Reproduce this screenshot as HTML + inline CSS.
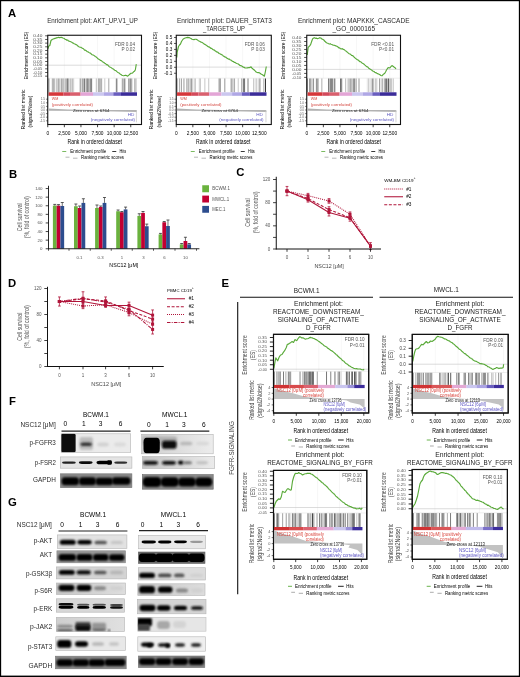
<!DOCTYPE html>
<html><head><meta charset="utf-8"><style>
html,body{margin:0;padding:0;background:#fff;}
svg{display:block;font-family:"Liberation Sans", sans-serif;}
text{opacity:0.995;}
</style></head><body>
<svg width="520" height="677" viewBox="0 0 520 677">
<defs>
<filter id="b1" x="-20%" y="-60%" width="140%" height="220%"><feGaussianBlur stdDeviation="0.8"/></filter>
<filter id="b2" x="-20%" y="-60%" width="140%" height="220%"><feGaussianBlur stdDeviation="1.3"/></filter>
<filter id="b05" x="-20%" y="-60%" width="140%" height="220%"><feGaussianBlur stdDeviation="0.5"/></filter>
</defs>
<rect width="520" height="677" fill="#fff"/>
<rect x="0.00" y="0.00" width="520.00" height="1.20" fill="#000" />
<rect x="0.00" y="0.00" width="1.15" height="677.00" fill="#000" />
<rect x="518.85" y="0.00" width="1.15" height="677.00" fill="#000" />
<rect x="0.00" y="675.60" width="520.00" height="1.40" fill="#000" />
<text x="8.00" y="17.00" font-size="11.3" fill="#000" font-weight="bold" >A</text>
<text x="9.00" y="178.00" font-size="11.3" fill="#000" font-weight="bold" >B</text>
<text x="236.30" y="176.30" font-size="11.3" fill="#000" font-weight="bold" >C</text>
<text x="8.00" y="286.70" font-size="11.3" fill="#000" font-weight="bold" >D</text>
<text x="221.60" y="287.00" font-size="11.3" fill="#000" font-weight="bold" >E</text>
<text x="9.00" y="404.50" font-size="11.3" fill="#000" font-weight="bold" >F</text>
<text x="8.00" y="505.50" font-size="11.3" fill="#000" font-weight="bold" >G</text>
<line x1="64.35" y1="35.75" x2="64.35" y2="78.20" stroke="#eeeeee" stroke-width="0.5" />
<line x1="80.95" y1="35.75" x2="80.95" y2="78.20" stroke="#eeeeee" stroke-width="0.5" />
<line x1="97.55" y1="35.75" x2="97.55" y2="78.20" stroke="#eeeeee" stroke-width="0.5" />
<line x1="114.15" y1="35.75" x2="114.15" y2="78.20" stroke="#eeeeee" stroke-width="0.5" />
<line x1="130.75" y1="35.75" x2="130.75" y2="78.20" stroke="#eeeeee" stroke-width="0.5" />
<line x1="48.25" y1="65.20" x2="141.00" y2="65.20" stroke="#c4c4c4" stroke-width="0.6" />
<path d="M48.20,48.60 L48.60,46.20 L49.80,45.60 L50.40,43.00 L51.00,40.50 L52.50,39.20 L53.33,38.98 L54.17,38.62 L55.00,38.40 L55.88,38.18 L56.75,37.64 L57.62,37.79 L58.50,37.30 L59.38,37.60 L60.25,37.56 L61.12,37.29 L62.00,37.60 L62.80,37.99 L63.60,38.24 L64.40,38.56 L65.20,39.44 L66.00,39.50 L66.80,40.25 L67.60,39.98 L68.40,40.95 L69.20,41.17 L70.00,41.50 L70.83,41.83 L71.67,42.18 L72.50,42.87 L73.33,43.14 L74.17,43.71 L75.00,44.00 L75.88,44.64 L76.75,44.79 L77.62,45.76 L78.50,46.44 L79.38,46.95 L80.25,47.23 L81.12,47.36 L82.00,48.20 L82.85,48.38 L83.69,48.99 L84.54,50.08 L85.38,50.15 L86.23,50.72 L87.08,51.62 L87.92,51.73 L88.77,52.42 L89.62,52.86 L90.46,53.13 L91.31,54.01 L92.15,54.72 L93.00,55.00 L93.83,55.34 L94.67,55.97 L95.50,56.69 L96.33,57.01 L97.17,57.91 L98.00,58.72 L98.83,59.19 L99.67,59.69 L100.50,60.50 L101.33,60.59 L102.17,61.46 L103.00,62.00 L103.85,62.50 L104.69,63.25 L105.54,63.50 L106.38,64.56 L107.23,64.67 L108.07,65.31 L108.92,66.35 L109.76,67.04 L110.61,67.27 L111.45,67.85 L112.30,68.50 L113.11,68.89 L113.93,69.49 L114.74,70.30 L115.56,70.56 L116.37,71.09 L117.19,71.90 L118.00,72.50 L119.00,72.93 L120.00,73.94 L121.00,74.50 L121.93,75.16 L122.87,75.56 L123.80,75.80 L124.65,75.49 L125.50,75.20 L126.60,75.59 L127.70,76.20 L128.85,75.05 L130.00,74.00 L131.00,73.25 L132.00,73.20 L132.80,72.72 L133.60,71.82 L134.40,71.30 L135.30,70.00 L136.30,64.20" fill="none" stroke="#5aaa3a" stroke-width="1.15" stroke-linejoin="round" />
<line x1="47.75" y1="78.20" x2="141.50" y2="78.20" stroke="#dddddd" stroke-width="0.5" />
<line x1="48.90" y1="78.50" x2="48.90" y2="92.30" stroke="#000" stroke-width="0.8" stroke-opacity="0.57"/>
<line x1="52.31" y1="78.50" x2="52.31" y2="92.30" stroke="#000" stroke-width="0.8" stroke-opacity="0.40"/>
<line x1="53.38" y1="78.50" x2="53.38" y2="92.30" stroke="#000" stroke-width="0.5" stroke-opacity="0.68"/>
<line x1="54.71" y1="78.50" x2="54.71" y2="92.30" stroke="#000" stroke-width="0.6" stroke-opacity="0.52"/>
<line x1="56.93" y1="78.50" x2="56.93" y2="92.30" stroke="#000" stroke-width="0.5" stroke-opacity="0.72"/>
<line x1="58.43" y1="78.50" x2="58.43" y2="92.30" stroke="#000" stroke-width="0.6" stroke-opacity="0.58"/>
<line x1="59.70" y1="78.50" x2="59.70" y2="92.30" stroke="#000" stroke-width="0.5" stroke-opacity="0.54"/>
<line x1="61.30" y1="78.50" x2="61.30" y2="92.30" stroke="#000" stroke-width="0.5" stroke-opacity="0.82"/>
<line x1="62.74" y1="78.50" x2="62.74" y2="92.30" stroke="#000" stroke-width="0.7" stroke-opacity="0.45"/>
<line x1="63.56" y1="78.50" x2="63.56" y2="92.30" stroke="#000" stroke-width="0.5" stroke-opacity="0.39"/>
<line x1="65.13" y1="78.50" x2="65.13" y2="92.30" stroke="#000" stroke-width="0.5" stroke-opacity="0.80"/>
<line x1="66.96" y1="78.50" x2="66.96" y2="92.30" stroke="#000" stroke-width="0.8" stroke-opacity="0.68"/>
<line x1="67.83" y1="78.50" x2="67.83" y2="92.30" stroke="#000" stroke-width="0.7" stroke-opacity="0.72"/>
<line x1="68.93" y1="78.50" x2="68.93" y2="92.30" stroke="#000" stroke-width="0.8" stroke-opacity="0.34"/>
<line x1="70.42" y1="78.50" x2="70.42" y2="92.30" stroke="#000" stroke-width="0.5" stroke-opacity="0.46"/>
<line x1="71.30" y1="78.50" x2="71.30" y2="92.30" stroke="#000" stroke-width="0.6" stroke-opacity="0.34"/>
<line x1="72.50" y1="78.50" x2="72.50" y2="92.30" stroke="#000" stroke-width="0.6" stroke-opacity="0.42"/>
<line x1="73.68" y1="78.50" x2="73.68" y2="92.30" stroke="#000" stroke-width="0.6" stroke-opacity="0.32"/>
<line x1="80.00" y1="78.50" x2="80.00" y2="92.30" stroke="#000" stroke-width="0.5" stroke-opacity="0.51"/>
<line x1="80.84" y1="78.50" x2="80.84" y2="92.30" stroke="#000" stroke-width="0.5" stroke-opacity="0.66"/>
<line x1="82.33" y1="78.50" x2="82.33" y2="92.30" stroke="#000" stroke-width="0.5" stroke-opacity="0.58"/>
<line x1="83.20" y1="78.50" x2="83.20" y2="92.30" stroke="#000" stroke-width="0.5" stroke-opacity="0.78"/>
<line x1="84.54" y1="78.50" x2="84.54" y2="92.30" stroke="#000" stroke-width="0.8" stroke-opacity="0.67"/>
<line x1="86.09" y1="78.50" x2="86.09" y2="92.30" stroke="#000" stroke-width="0.6" stroke-opacity="0.63"/>
<line x1="87.17" y1="78.50" x2="87.17" y2="92.30" stroke="#000" stroke-width="0.6" stroke-opacity="0.76"/>
<line x1="88.11" y1="78.50" x2="88.11" y2="92.30" stroke="#000" stroke-width="0.8" stroke-opacity="0.73"/>
<line x1="89.71" y1="78.50" x2="89.71" y2="92.30" stroke="#000" stroke-width="0.5" stroke-opacity="0.65"/>
<line x1="90.60" y1="78.50" x2="90.60" y2="92.30" stroke="#000" stroke-width="0.8" stroke-opacity="0.55"/>
<line x1="91.64" y1="78.50" x2="91.64" y2="92.30" stroke="#000" stroke-width="0.7" stroke-opacity="0.75"/>
<line x1="96.30" y1="78.50" x2="96.30" y2="92.30" stroke="#000" stroke-width="0.5" stroke-opacity="0.53"/>
<line x1="98.34" y1="78.50" x2="98.34" y2="92.30" stroke="#000" stroke-width="0.8" stroke-opacity="0.44"/>
<line x1="99.36" y1="78.50" x2="99.36" y2="92.30" stroke="#000" stroke-width="0.6" stroke-opacity="0.44"/>
<line x1="100.24" y1="78.50" x2="100.24" y2="92.30" stroke="#000" stroke-width="0.7" stroke-opacity="0.52"/>
<line x1="101.63" y1="78.50" x2="101.63" y2="92.30" stroke="#000" stroke-width="0.6" stroke-opacity="0.58"/>
<line x1="104.80" y1="78.50" x2="104.80" y2="92.30" stroke="#000" stroke-width="0.5" stroke-opacity="0.42"/>
<line x1="108.81" y1="78.50" x2="108.81" y2="92.30" stroke="#000" stroke-width="0.6" stroke-opacity="0.60"/>
<line x1="116.35" y1="78.50" x2="116.35" y2="92.30" stroke="#000" stroke-width="0.8" stroke-opacity="0.68"/>
<line x1="117.49" y1="78.50" x2="117.49" y2="92.30" stroke="#000" stroke-width="0.5" stroke-opacity="0.40"/>
<line x1="122.30" y1="78.50" x2="122.30" y2="92.30" stroke="#000" stroke-width="0.5" stroke-opacity="0.80"/>
<line x1="123.57" y1="78.50" x2="123.57" y2="92.30" stroke="#000" stroke-width="0.5" stroke-opacity="0.52"/>
<line x1="124.80" y1="78.50" x2="124.80" y2="92.30" stroke="#000" stroke-width="0.8" stroke-opacity="0.72"/>
<line x1="128.67" y1="78.50" x2="128.67" y2="92.30" stroke="#000" stroke-width="0.6" stroke-opacity="0.68"/>
<line x1="130.15" y1="78.50" x2="130.15" y2="92.30" stroke="#000" stroke-width="0.8" stroke-opacity="0.84"/>
<line x1="131.75" y1="78.50" x2="131.75" y2="92.30" stroke="#000" stroke-width="0.6" stroke-opacity="0.71"/>
<line x1="134.60" y1="78.50" x2="134.60" y2="92.30" stroke="#000" stroke-width="0.6" stroke-opacity="0.47"/>
<line x1="135.93" y1="78.50" x2="135.93" y2="92.30" stroke="#000" stroke-width="0.8" stroke-opacity="0.43"/>
<rect x="48.50" y="92.30" width="14.80" height="3.50" fill="#d6373a" />
<rect x="63.30" y="92.30" width="6.70" height="3.50" fill="#d34a5c" />
<rect x="70.00" y="92.30" width="10.60" height="3.50" fill="#d9606e" />
<rect x="80.60" y="92.30" width="12.40" height="3.50" fill="#e3a5d6" />
<rect x="93.00" y="92.30" width="10.60" height="3.50" fill="#cbc7ef" />
<rect x="103.60" y="92.30" width="9.70" height="3.50" fill="#afa7e5" />
<rect x="113.30" y="92.30" width="7.70" height="3.50" fill="#6a5ebf" />
<rect x="121.00" y="92.30" width="16.00" height="3.50" fill="#3b2c99" />
<rect x="47.75" y="35.25" width="93.75" height="89.25" fill="none" stroke="#111" stroke-width="1.1"/>
<text x="47.20" y="23.01" font-size="6.8" fill="#2a2a2a" textLength="90.80" lengthAdjust="spacingAndGlyphs" >Enrichment plot: AKT_UP.V1_UP</text>
<text x="135.00" y="45.70" font-size="4.7" text-anchor="end" fill="#555" >FDR 0.04</text>
<text x="135.00" y="50.70" font-size="4.7" text-anchor="end" fill="#555" >P 0.02</text>
<line x1="47.75" y1="124.50" x2="47.75" y2="127.20" stroke="#111" stroke-width="0.8" />
<text x="47.75" y="134.80" font-size="4.8" text-anchor="middle" >0</text>
<line x1="64.35" y1="124.50" x2="64.35" y2="127.20" stroke="#111" stroke-width="0.8" />
<text x="64.35" y="134.80" font-size="4.8" text-anchor="middle" >2,500</text>
<line x1="80.95" y1="124.50" x2="80.95" y2="127.20" stroke="#111" stroke-width="0.8" />
<text x="80.95" y="134.80" font-size="4.8" text-anchor="middle" >5,000</text>
<line x1="97.55" y1="124.50" x2="97.55" y2="127.20" stroke="#111" stroke-width="0.8" />
<text x="97.55" y="134.80" font-size="4.8" text-anchor="middle" >7,500</text>
<line x1="114.15" y1="124.50" x2="114.15" y2="127.20" stroke="#111" stroke-width="0.8" />
<text x="114.15" y="134.80" font-size="4.8" text-anchor="middle" >10,000</text>
<line x1="130.75" y1="124.50" x2="130.75" y2="127.20" stroke="#111" stroke-width="0.8" />
<text x="130.75" y="134.80" font-size="4.8" text-anchor="middle" >12,500</text>
<text x="67.50" y="144.28" font-size="7.0" textLength="54.50" lengthAdjust="spacingAndGlyphs" >Rank in ordered dataset</text>
<line x1="62.25" y1="151.50" x2="66.25" y2="151.50" stroke="#5aaa3a" stroke-width="0.8" />
<text x="70.25" y="153.13" font-size="4.8" textLength="36.00" lengthAdjust="spacingAndGlyphs" >Enrichment profile</text>
<line x1="112.25" y1="151.50" x2="116.25" y2="151.50" stroke="#222" stroke-width="0.9" />
<text x="119.50" y="153.13" font-size="4.8" textLength="6.75" lengthAdjust="spacingAndGlyphs" >Hits</text>
<line x1="65.50" y1="157.20" x2="69.50" y2="157.20" stroke="#999" stroke-width="0.7" />
<line x1="73.00" y1="158.20" x2="77.50" y2="158.20" stroke="#999" stroke-width="0.7" />
<text x="81.00" y="159.38" font-size="4.8" textLength="43.00" lengthAdjust="spacingAndGlyphs" >Ranking metric scores</text>
<text x="51.70" y="100.46" font-size="4.3" fill="#d4463f" textLength="6.55" lengthAdjust="spacingAndGlyphs" >WM</text>
<text x="51.70" y="105.66" font-size="4.3" fill="#d4463f" textLength="41.30" lengthAdjust="spacingAndGlyphs" >(positively correlated)</text>
<path d="M48.35,108.4 L67.75,109.4 L92.75,109.9 L136.00,110.1 L137.00,110.6 L137.00,112.0 L92.75,110.9 L48.35,110.7 Z" fill="#b2b2b2"/>
<rect x="135.90" y="111.50" width="1.10" height="10.80" fill="#d9d9d9" />
<text x="72.90" y="111.66" font-size="4.3" fill="#222" textLength="36.50" lengthAdjust="spacingAndGlyphs" >Zero cross at 6764</text>
<text x="127.70" y="115.86" font-size="4.3" fill="#5a55c0" textLength="6.70" lengthAdjust="spacingAndGlyphs" >HD</text>
<text x="90.80" y="121.06" font-size="4.3" fill="#5a55c0" textLength="44.20" lengthAdjust="spacingAndGlyphs" >(negatively correlated)</text>
<text transform="translate(27.50,55.60) rotate(-90)" x="0" y="0" font-size="6.0" text-anchor="middle" textLength="48.00" lengthAdjust="spacingAndGlyphs" >Enrichment score (ES)</text>
<text transform="translate(24.75,109.50) rotate(-90)" x="0" y="0" font-size="6.0" text-anchor="middle" textLength="40.00" lengthAdjust="spacingAndGlyphs" >Ranked list metric</text>
<text transform="translate(32.25,111.50) rotate(-90)" x="0" y="0" font-size="6.0" text-anchor="middle" textLength="32.00" lengthAdjust="spacingAndGlyphs" >(signal2Noise)</text>
<line x1="45.95" y1="99.20" x2="47.75" y2="99.20" stroke="#111" stroke-width="0.5" />
<text x="45.15" y="100.40" font-size="3.2" text-anchor="end" fill="#666" >1.5</text>
<line x1="45.95" y1="102.80" x2="47.75" y2="102.80" stroke="#111" stroke-width="0.5" />
<text x="45.15" y="104.00" font-size="3.2" text-anchor="end" fill="#666" >1.0</text>
<line x1="45.95" y1="106.40" x2="47.75" y2="106.40" stroke="#111" stroke-width="0.5" />
<text x="45.15" y="107.60" font-size="3.2" text-anchor="end" fill="#666" >0.5</text>
<line x1="45.95" y1="110.00" x2="47.75" y2="110.00" stroke="#111" stroke-width="0.5" />
<text x="45.15" y="111.20" font-size="3.2" text-anchor="end" fill="#666" >0.0</text>
<line x1="45.95" y1="113.60" x2="47.75" y2="113.60" stroke="#111" stroke-width="0.5" />
<text x="45.15" y="114.80" font-size="3.2" text-anchor="end" fill="#666" >-0.5</text>
<line x1="45.95" y1="117.20" x2="47.75" y2="117.20" stroke="#111" stroke-width="0.5" />
<text x="45.15" y="118.40" font-size="3.2" text-anchor="end" fill="#666" >-1.0</text>
<line x1="45.95" y1="120.80" x2="47.75" y2="120.80" stroke="#111" stroke-width="0.5" />
<text x="45.15" y="122.00" font-size="3.2" text-anchor="end" fill="#666" >-1.5</text>
<line x1="192.85" y1="35.75" x2="192.85" y2="78.20" stroke="#eeeeee" stroke-width="0.5" />
<line x1="209.45" y1="35.75" x2="209.45" y2="78.20" stroke="#eeeeee" stroke-width="0.5" />
<line x1="226.05" y1="35.75" x2="226.05" y2="78.20" stroke="#eeeeee" stroke-width="0.5" />
<line x1="242.65" y1="35.75" x2="242.65" y2="78.20" stroke="#eeeeee" stroke-width="0.5" />
<line x1="259.25" y1="35.75" x2="259.25" y2="78.20" stroke="#eeeeee" stroke-width="0.5" />
<line x1="176.75" y1="67.10" x2="270.80" y2="67.10" stroke="#c4c4c4" stroke-width="0.6" />
<path d="M176.80,57.50 L177.20,52.00 L177.80,49.50 L178.50,46.50 L179.50,45.00 L180.50,44.00 L181.50,41.50 L183.00,39.20 L184.50,38.30 L186.00,37.80 L187.50,37.40 L189.00,37.60 L190.00,38.07 L191.00,38.50 L192.00,39.21 L193.00,39.50 L194.00,39.67 L195.00,39.20 L196.00,39.25 L197.00,39.60 L198.00,40.42 L199.00,41.01 L200.00,41.50 L200.83,42.11 L201.67,42.23 L202.50,42.67 L203.33,43.42 L204.17,44.17 L205.00,44.33 L205.83,45.00 L206.67,45.37 L207.50,46.24 L208.33,46.81 L209.17,46.93 L210.00,47.50 L210.83,48.37 L211.67,48.24 L212.50,49.29 L213.33,49.86 L214.17,49.88 L215.00,50.79 L215.83,51.22 L216.67,52.02 L217.50,52.02 L218.33,52.78 L219.17,53.54 L220.00,53.80 L220.84,54.40 L221.67,54.67 L222.51,55.01 L223.34,56.11 L224.18,56.28 L225.01,57.15 L225.85,57.05 L226.69,58.02 L227.52,58.52 L228.36,59.09 L229.19,58.96 L230.03,59.71 L230.86,59.99 L231.70,60.80 L232.53,61.39 L233.36,61.53 L234.19,62.36 L235.01,62.37 L235.84,63.06 L236.67,63.54 L237.50,63.70 L238.33,64.00 L239.17,64.70 L240.00,65.45 L240.83,65.63 L241.67,65.99 L242.50,66.40 L243.33,67.24 L244.17,67.31 L245.00,68.00 L245.80,68.03 L246.60,67.96 L247.40,67.92 L248.20,67.58 L249.00,67.80 L250.00,67.41 L251.00,66.80 L252.00,68.19 L253.00,69.00 L253.93,69.70 L254.85,70.53 L255.77,71.76 L256.70,72.30 L257.52,72.58 L258.35,72.59 L259.18,72.63 L260.00,73.20 L261.00,74.03 L262.00,74.50 L263.20,75.24 L264.40,76.20 L265.30,72.00 L266.30,66.50" fill="none" stroke="#5aaa3a" stroke-width="1.15" stroke-linejoin="round" />
<line x1="176.25" y1="78.20" x2="271.30" y2="78.20" stroke="#dddddd" stroke-width="0.5" />
<line x1="177.10" y1="78.50" x2="177.10" y2="92.30" stroke="#000" stroke-width="0.7" stroke-opacity="0.62"/>
<line x1="179.48" y1="78.50" x2="179.48" y2="92.30" stroke="#000" stroke-width="0.7" stroke-opacity="0.45"/>
<line x1="181.36" y1="78.50" x2="181.36" y2="92.30" stroke="#000" stroke-width="0.6" stroke-opacity="0.66"/>
<line x1="183.95" y1="78.50" x2="183.95" y2="92.30" stroke="#000" stroke-width="0.6" stroke-opacity="0.65"/>
<line x1="186.96" y1="78.50" x2="186.96" y2="92.30" stroke="#000" stroke-width="0.7" stroke-opacity="0.64"/>
<line x1="188.77" y1="78.50" x2="188.77" y2="92.30" stroke="#000" stroke-width="0.7" stroke-opacity="0.56"/>
<line x1="190.31" y1="78.50" x2="190.31" y2="92.30" stroke="#000" stroke-width="0.5" stroke-opacity="0.45"/>
<line x1="191.36" y1="78.50" x2="191.36" y2="92.30" stroke="#000" stroke-width="0.8" stroke-opacity="0.54"/>
<line x1="192.78" y1="78.50" x2="192.78" y2="92.30" stroke="#000" stroke-width="0.6" stroke-opacity="0.39"/>
<line x1="195.08" y1="78.50" x2="195.08" y2="92.30" stroke="#000" stroke-width="0.6" stroke-opacity="0.58"/>
<line x1="199.23" y1="78.50" x2="199.23" y2="92.30" stroke="#000" stroke-width="0.5" stroke-opacity="0.27"/>
<line x1="200.25" y1="78.50" x2="200.25" y2="92.30" stroke="#000" stroke-width="0.8" stroke-opacity="0.34"/>
<line x1="204.86" y1="78.50" x2="204.86" y2="92.30" stroke="#000" stroke-width="0.5" stroke-opacity="0.45"/>
<line x1="208.74" y1="78.50" x2="208.74" y2="92.30" stroke="#000" stroke-width="0.7" stroke-opacity="0.34"/>
<line x1="218.90" y1="78.50" x2="218.90" y2="92.30" stroke="#000" stroke-width="0.7" stroke-opacity="0.41"/>
<line x1="220.08" y1="78.50" x2="220.08" y2="92.30" stroke="#000" stroke-width="0.8" stroke-opacity="0.76"/>
<line x1="224.82" y1="78.50" x2="224.82" y2="92.30" stroke="#000" stroke-width="0.8" stroke-opacity="0.52"/>
<line x1="231.08" y1="78.50" x2="231.08" y2="92.30" stroke="#000" stroke-width="0.6" stroke-opacity="0.60"/>
<line x1="231.99" y1="78.50" x2="231.99" y2="92.30" stroke="#000" stroke-width="0.5" stroke-opacity="0.50"/>
<line x1="233.11" y1="78.50" x2="233.11" y2="92.30" stroke="#000" stroke-width="0.7" stroke-opacity="0.37"/>
<line x1="234.56" y1="78.50" x2="234.56" y2="92.30" stroke="#000" stroke-width="0.8" stroke-opacity="0.43"/>
<line x1="238.23" y1="78.50" x2="238.23" y2="92.30" stroke="#000" stroke-width="0.7" stroke-opacity="0.31"/>
<line x1="241.63" y1="78.50" x2="241.63" y2="92.30" stroke="#000" stroke-width="0.7" stroke-opacity="0.47"/>
<line x1="243.30" y1="78.50" x2="243.30" y2="92.30" stroke="#000" stroke-width="0.8" stroke-opacity="0.79"/>
<line x1="244.58" y1="78.50" x2="244.58" y2="92.30" stroke="#000" stroke-width="0.8" stroke-opacity="0.73"/>
<line x1="248.01" y1="78.50" x2="248.01" y2="92.30" stroke="#000" stroke-width="0.8" stroke-opacity="0.64"/>
<line x1="253.76" y1="78.50" x2="253.76" y2="92.30" stroke="#000" stroke-width="0.5" stroke-opacity="0.55"/>
<line x1="255.76" y1="78.50" x2="255.76" y2="92.30" stroke="#000" stroke-width="0.6" stroke-opacity="0.23"/>
<line x1="256.79" y1="78.50" x2="256.79" y2="92.30" stroke="#000" stroke-width="0.5" stroke-opacity="0.43"/>
<line x1="259.10" y1="78.50" x2="259.10" y2="92.30" stroke="#000" stroke-width="0.6" stroke-opacity="0.55"/>
<line x1="260.14" y1="78.50" x2="260.14" y2="92.30" stroke="#000" stroke-width="0.6" stroke-opacity="0.54"/>
<line x1="263.88" y1="78.50" x2="263.88" y2="92.30" stroke="#000" stroke-width="0.7" stroke-opacity="0.52"/>
<line x1="265.50" y1="78.50" x2="265.50" y2="92.30" stroke="#000" stroke-width="0.8" stroke-opacity="1.00"/>
<rect x="177.00" y="92.30" width="14.80" height="3.50" fill="#d6373a" />
<rect x="191.80" y="92.30" width="6.70" height="3.50" fill="#d34a5c" />
<rect x="198.50" y="92.30" width="10.60" height="3.50" fill="#d9606e" />
<rect x="209.10" y="92.30" width="12.40" height="3.50" fill="#e3a5d6" />
<rect x="221.50" y="92.30" width="10.60" height="3.50" fill="#cbc7ef" />
<rect x="232.10" y="92.30" width="9.70" height="3.50" fill="#afa7e5" />
<rect x="241.80" y="92.30" width="7.70" height="3.50" fill="#6a5ebf" />
<rect x="249.50" y="92.30" width="17.00" height="3.50" fill="#3b2c99" />
<rect x="176.25" y="35.25" width="95.05" height="89.25" fill="none" stroke="#111" stroke-width="1.1"/>
<text x="177.00" y="23.01" font-size="6.8" fill="#2a2a2a" textLength="94.80" lengthAdjust="spacingAndGlyphs" >Enrichment plot: DAUER_STAT3</text>
<text x="203.00" y="31.01" font-size="6.8" fill="#2a2a2a" textLength="42.00" lengthAdjust="spacingAndGlyphs" >_TARGETS_UP</text>
<text x="264.80" y="45.70" font-size="4.7" text-anchor="end" fill="#555" >FDR 0.06</text>
<text x="264.80" y="50.70" font-size="4.7" text-anchor="end" fill="#555" >P 0.03</text>
<line x1="176.25" y1="124.50" x2="176.25" y2="127.20" stroke="#111" stroke-width="0.8" />
<text x="176.25" y="134.80" font-size="4.8" text-anchor="middle" >0</text>
<line x1="192.85" y1="124.50" x2="192.85" y2="127.20" stroke="#111" stroke-width="0.8" />
<text x="192.85" y="134.80" font-size="4.8" text-anchor="middle" >2,500</text>
<line x1="209.45" y1="124.50" x2="209.45" y2="127.20" stroke="#111" stroke-width="0.8" />
<text x="209.45" y="134.80" font-size="4.8" text-anchor="middle" >5,000</text>
<line x1="226.05" y1="124.50" x2="226.05" y2="127.20" stroke="#111" stroke-width="0.8" />
<text x="226.05" y="134.80" font-size="4.8" text-anchor="middle" >7,500</text>
<line x1="242.65" y1="124.50" x2="242.65" y2="127.20" stroke="#111" stroke-width="0.8" />
<text x="242.65" y="134.80" font-size="4.8" text-anchor="middle" >10,000</text>
<line x1="259.25" y1="124.50" x2="259.25" y2="127.20" stroke="#111" stroke-width="0.8" />
<text x="259.25" y="134.80" font-size="4.8" text-anchor="middle" >12,500</text>
<text x="196.00" y="144.28" font-size="7.0" textLength="54.50" lengthAdjust="spacingAndGlyphs" >Rank in ordered dataset</text>
<line x1="190.75" y1="151.50" x2="194.75" y2="151.50" stroke="#5aaa3a" stroke-width="0.8" />
<text x="198.75" y="153.13" font-size="4.8" textLength="36.00" lengthAdjust="spacingAndGlyphs" >Enrichment profile</text>
<line x1="240.75" y1="151.50" x2="244.75" y2="151.50" stroke="#222" stroke-width="0.9" />
<text x="248.00" y="153.13" font-size="4.8" textLength="6.75" lengthAdjust="spacingAndGlyphs" >Hits</text>
<line x1="194.00" y1="157.20" x2="198.00" y2="157.20" stroke="#999" stroke-width="0.7" />
<line x1="201.50" y1="158.20" x2="206.00" y2="158.20" stroke="#999" stroke-width="0.7" />
<text x="209.50" y="159.38" font-size="4.8" textLength="43.00" lengthAdjust="spacingAndGlyphs" >Ranking metric scores</text>
<text x="180.20" y="100.46" font-size="4.3" fill="#d4463f" textLength="6.55" lengthAdjust="spacingAndGlyphs" >WM</text>
<text x="180.20" y="105.66" font-size="4.3" fill="#d4463f" textLength="41.30" lengthAdjust="spacingAndGlyphs" >(positively correlated)</text>
<path d="M176.85,108.4 L196.25,109.4 L221.25,109.9 L265.50,110.1 L266.50,110.6 L266.50,112.0 L221.25,110.9 L176.85,110.7 Z" fill="#b2b2b2"/>
<rect x="265.40" y="111.50" width="1.10" height="10.80" fill="#d9d9d9" />
<text x="201.40" y="111.66" font-size="4.3" fill="#222" textLength="36.50" lengthAdjust="spacingAndGlyphs" >Zero cross at 6764</text>
<text x="256.20" y="115.86" font-size="4.3" fill="#5a55c0" textLength="6.70" lengthAdjust="spacingAndGlyphs" >HD</text>
<text x="219.30" y="121.06" font-size="4.3" fill="#5a55c0" textLength="44.20" lengthAdjust="spacingAndGlyphs" >(negatively correlated)</text>
<text transform="translate(157.35,55.60) rotate(-90)" x="0" y="0" font-size="6.0" text-anchor="middle" textLength="48.00" lengthAdjust="spacingAndGlyphs" >Enrichment score (ES)</text>
<text transform="translate(153.25,109.50) rotate(-90)" x="0" y="0" font-size="6.0" text-anchor="middle" textLength="40.00" lengthAdjust="spacingAndGlyphs" >Ranked list metric</text>
<text transform="translate(160.75,111.50) rotate(-90)" x="0" y="0" font-size="6.0" text-anchor="middle" textLength="32.00" lengthAdjust="spacingAndGlyphs" >(signal2Noise)</text>
<line x1="174.45" y1="99.20" x2="176.25" y2="99.20" stroke="#111" stroke-width="0.5" />
<text x="173.65" y="100.40" font-size="3.2" text-anchor="end" fill="#666" >1.5</text>
<line x1="174.45" y1="102.80" x2="176.25" y2="102.80" stroke="#111" stroke-width="0.5" />
<text x="173.65" y="104.00" font-size="3.2" text-anchor="end" fill="#666" >1.0</text>
<line x1="174.45" y1="106.40" x2="176.25" y2="106.40" stroke="#111" stroke-width="0.5" />
<text x="173.65" y="107.60" font-size="3.2" text-anchor="end" fill="#666" >0.5</text>
<line x1="174.45" y1="110.00" x2="176.25" y2="110.00" stroke="#111" stroke-width="0.5" />
<text x="173.65" y="111.20" font-size="3.2" text-anchor="end" fill="#666" >0.0</text>
<line x1="174.45" y1="113.60" x2="176.25" y2="113.60" stroke="#111" stroke-width="0.5" />
<text x="173.65" y="114.80" font-size="3.2" text-anchor="end" fill="#666" >-0.5</text>
<line x1="174.45" y1="117.20" x2="176.25" y2="117.20" stroke="#111" stroke-width="0.5" />
<text x="173.65" y="118.40" font-size="3.2" text-anchor="end" fill="#666" >-1.0</text>
<line x1="174.45" y1="120.80" x2="176.25" y2="120.80" stroke="#111" stroke-width="0.5" />
<text x="173.65" y="122.00" font-size="3.2" text-anchor="end" fill="#666" >-1.5</text>
<line x1="323.35" y1="35.75" x2="323.35" y2="78.20" stroke="#eeeeee" stroke-width="0.5" />
<line x1="339.95" y1="35.75" x2="339.95" y2="78.20" stroke="#eeeeee" stroke-width="0.5" />
<line x1="356.55" y1="35.75" x2="356.55" y2="78.20" stroke="#eeeeee" stroke-width="0.5" />
<line x1="373.15" y1="35.75" x2="373.15" y2="78.20" stroke="#eeeeee" stroke-width="0.5" />
<line x1="389.75" y1="35.75" x2="389.75" y2="78.20" stroke="#eeeeee" stroke-width="0.5" />
<line x1="307.25" y1="69.40" x2="400.00" y2="69.40" stroke="#c4c4c4" stroke-width="0.6" />
<path d="M307.20,55.00 L308.20,47.30 L309.03,46.48 L309.87,45.60 L310.70,44.40 L311.80,41.00 L312.70,38.70 L313.65,37.98 L314.60,37.70 L315.57,38.38 L316.53,38.15 L317.50,38.70 L318.65,38.32 L319.80,37.70 L320.87,38.01 L321.93,39.08 L323.00,39.50 L323.80,39.96 L324.60,41.04 L325.40,41.76 L326.20,42.49 L327.00,43.00 L327.80,43.20 L328.60,43.74 L329.40,44.06 L330.20,43.69 L331.00,44.20 L331.95,44.51 L332.90,45.12 L333.85,45.27 L334.80,45.40 L335.87,45.89 L336.93,46.33 L338.00,47.00 L338.83,47.92 L339.67,47.91 L340.50,48.80 L341.50,48.93 L342.50,48.70 L343.33,49.53 L344.17,49.64 L345.00,50.35 L345.83,50.92 L346.67,51.67 L347.50,52.14 L348.33,53.10 L349.17,53.71 L350.00,54.00 L350.84,54.49 L351.67,55.52 L352.51,55.56 L353.34,56.20 L354.18,57.22 L355.01,57.94 L355.85,58.57 L356.69,59.32 L357.52,59.84 L358.36,60.05 L359.19,61.01 L360.03,61.75 L360.86,61.79 L361.70,62.70 L362.52,63.31 L363.34,63.69 L364.16,64.29 L364.99,65.14 L365.81,65.89 L366.63,66.72 L367.45,66.74 L368.27,67.62 L369.09,68.58 L369.91,69.03 L370.74,69.48 L371.56,69.89 L372.38,70.78 L373.20,71.30 L374.00,71.55 L374.80,72.23 L375.60,72.65 L376.40,72.89 L377.20,73.59 L378.00,73.80 L378.98,74.23 L379.95,74.78 L380.92,75.53 L381.90,75.80 L382.87,74.79 L383.83,73.91 L384.80,73.30 L385.65,71.70 L386.50,70.00 L387.35,68.70 L388.20,67.50 L389.10,67.91 L390.00,67.80 L391.00,66.52 L392.00,65.60 L393.00,66.21 L394.00,67.00 L395.00,67.69 L396.00,69.00" fill="none" stroke="#5aaa3a" stroke-width="1.15" stroke-linejoin="round" />
<line x1="306.75" y1="78.20" x2="400.50" y2="78.20" stroke="#dddddd" stroke-width="0.5" />
<line x1="307.50" y1="78.50" x2="307.50" y2="92.30" stroke="#000" stroke-width="0.5" stroke-opacity="0.84"/>
<line x1="309.87" y1="78.50" x2="309.87" y2="92.30" stroke="#000" stroke-width="0.7" stroke-opacity="0.86"/>
<line x1="310.70" y1="78.50" x2="310.70" y2="92.30" stroke="#000" stroke-width="0.5" stroke-opacity="0.41"/>
<line x1="312.02" y1="78.50" x2="312.02" y2="92.30" stroke="#000" stroke-width="0.7" stroke-opacity="0.46"/>
<line x1="313.56" y1="78.50" x2="313.56" y2="92.30" stroke="#000" stroke-width="0.8" stroke-opacity="0.55"/>
<line x1="316.38" y1="78.50" x2="316.38" y2="92.30" stroke="#000" stroke-width="0.7" stroke-opacity="0.67"/>
<line x1="317.55" y1="78.50" x2="317.55" y2="92.30" stroke="#000" stroke-width="0.8" stroke-opacity="0.44"/>
<line x1="318.42" y1="78.50" x2="318.42" y2="92.30" stroke="#000" stroke-width="0.6" stroke-opacity="0.40"/>
<line x1="321.85" y1="78.50" x2="321.85" y2="92.30" stroke="#000" stroke-width="0.8" stroke-opacity="0.40"/>
<line x1="328.59" y1="78.50" x2="328.59" y2="92.30" stroke="#000" stroke-width="0.8" stroke-opacity="0.70"/>
<line x1="330.16" y1="78.50" x2="330.16" y2="92.30" stroke="#000" stroke-width="0.8" stroke-opacity="0.83"/>
<line x1="331.36" y1="78.50" x2="331.36" y2="92.30" stroke="#000" stroke-width="0.6" stroke-opacity="0.66"/>
<line x1="332.20" y1="78.50" x2="332.20" y2="92.30" stroke="#000" stroke-width="0.8" stroke-opacity="0.83"/>
<line x1="334.21" y1="78.50" x2="334.21" y2="92.30" stroke="#000" stroke-width="0.6" stroke-opacity="0.91"/>
<line x1="335.12" y1="78.50" x2="335.12" y2="92.30" stroke="#000" stroke-width="0.6" stroke-opacity="0.49"/>
<line x1="340.80" y1="78.50" x2="340.80" y2="92.30" stroke="#000" stroke-width="0.8" stroke-opacity="1.00"/>
<line x1="341.80" y1="78.50" x2="341.80" y2="92.30" stroke="#000" stroke-width="0.7" stroke-opacity="0.53"/>
<line x1="345.67" y1="78.50" x2="345.67" y2="92.30" stroke="#000" stroke-width="0.8" stroke-opacity="0.34"/>
<line x1="348.08" y1="78.50" x2="348.08" y2="92.30" stroke="#000" stroke-width="0.5" stroke-opacity="0.55"/>
<line x1="349.30" y1="78.50" x2="349.30" y2="92.30" stroke="#000" stroke-width="0.5" stroke-opacity="0.56"/>
<line x1="350.74" y1="78.50" x2="350.74" y2="92.30" stroke="#000" stroke-width="0.6" stroke-opacity="0.72"/>
<line x1="352.05" y1="78.50" x2="352.05" y2="92.30" stroke="#000" stroke-width="0.5" stroke-opacity="0.73"/>
<line x1="353.52" y1="78.50" x2="353.52" y2="92.30" stroke="#000" stroke-width="0.5" stroke-opacity="0.82"/>
<line x1="354.79" y1="78.50" x2="354.79" y2="92.30" stroke="#000" stroke-width="0.7" stroke-opacity="0.86"/>
<line x1="356.40" y1="78.50" x2="356.40" y2="92.30" stroke="#000" stroke-width="0.5" stroke-opacity="0.56"/>
<line x1="359.00" y1="78.50" x2="359.00" y2="92.30" stroke="#000" stroke-width="0.7" stroke-opacity="0.59"/>
<line x1="367.28" y1="78.50" x2="367.28" y2="92.30" stroke="#000" stroke-width="0.5" stroke-opacity="0.22"/>
<line x1="368.70" y1="78.50" x2="368.70" y2="92.30" stroke="#000" stroke-width="0.7" stroke-opacity="0.34"/>
<line x1="370.21" y1="78.50" x2="370.21" y2="92.30" stroke="#000" stroke-width="0.5" stroke-opacity="0.28"/>
<line x1="371.78" y1="78.50" x2="371.78" y2="92.30" stroke="#000" stroke-width="0.7" stroke-opacity="0.33"/>
<line x1="372.60" y1="78.50" x2="372.60" y2="92.30" stroke="#000" stroke-width="0.6" stroke-opacity="0.65"/>
<line x1="373.71" y1="78.50" x2="373.71" y2="92.30" stroke="#000" stroke-width="0.8" stroke-opacity="0.34"/>
<line x1="375.76" y1="78.50" x2="375.76" y2="92.30" stroke="#000" stroke-width="0.6" stroke-opacity="0.45"/>
<line x1="376.88" y1="78.50" x2="376.88" y2="92.30" stroke="#000" stroke-width="0.5" stroke-opacity="0.34"/>
<line x1="379.69" y1="78.50" x2="379.69" y2="92.30" stroke="#000" stroke-width="0.6" stroke-opacity="0.75"/>
<line x1="381.91" y1="78.50" x2="381.91" y2="92.30" stroke="#000" stroke-width="0.5" stroke-opacity="0.52"/>
<line x1="382.77" y1="78.50" x2="382.77" y2="92.30" stroke="#000" stroke-width="0.5" stroke-opacity="0.55"/>
<line x1="385.10" y1="78.50" x2="385.10" y2="92.30" stroke="#000" stroke-width="0.8" stroke-opacity="0.90"/>
<line x1="386.82" y1="78.50" x2="386.82" y2="92.30" stroke="#000" stroke-width="0.8" stroke-opacity="1.00"/>
<line x1="388.48" y1="78.50" x2="388.48" y2="92.30" stroke="#000" stroke-width="0.7" stroke-opacity="0.91"/>
<line x1="389.95" y1="78.50" x2="389.95" y2="92.30" stroke="#000" stroke-width="0.7" stroke-opacity="0.53"/>
<line x1="391.25" y1="78.50" x2="391.25" y2="92.30" stroke="#000" stroke-width="0.6" stroke-opacity="0.48"/>
<line x1="393.19" y1="78.50" x2="393.19" y2="92.30" stroke="#000" stroke-width="0.6" stroke-opacity="0.42"/>
<rect x="307.50" y="92.30" width="14.80" height="3.50" fill="#d6373a" />
<rect x="322.30" y="92.30" width="6.70" height="3.50" fill="#d34a5c" />
<rect x="329.00" y="92.30" width="10.60" height="3.50" fill="#d9606e" />
<rect x="339.60" y="92.30" width="12.40" height="3.50" fill="#e3a5d6" />
<rect x="352.00" y="92.30" width="10.60" height="3.50" fill="#cbc7ef" />
<rect x="362.60" y="92.30" width="9.70" height="3.50" fill="#afa7e5" />
<rect x="372.30" y="92.30" width="7.70" height="3.50" fill="#6a5ebf" />
<rect x="380.00" y="92.30" width="16.50" height="3.50" fill="#3b2c99" />
<rect x="306.75" y="35.25" width="93.75" height="89.25" fill="none" stroke="#111" stroke-width="1.1"/>
<text x="298.00" y="23.01" font-size="6.8" fill="#2a2a2a" textLength="111.50" lengthAdjust="spacingAndGlyphs" >Enrichment plot: MAPKKK_CASCADE</text>
<text x="332.50" y="31.01" font-size="6.8" fill="#2a2a2a" textLength="42.50" lengthAdjust="spacingAndGlyphs" >_GO_0000165</text>
<text x="394.00" y="45.70" font-size="4.7" text-anchor="end" fill="#555" >FDR &lt;0.01</text>
<text x="394.00" y="50.70" font-size="4.7" text-anchor="end" fill="#555" >P&lt;0.01</text>
<line x1="306.75" y1="124.50" x2="306.75" y2="127.20" stroke="#111" stroke-width="0.8" />
<text x="306.75" y="134.80" font-size="4.8" text-anchor="middle" >0</text>
<line x1="323.35" y1="124.50" x2="323.35" y2="127.20" stroke="#111" stroke-width="0.8" />
<text x="323.35" y="134.80" font-size="4.8" text-anchor="middle" >2,500</text>
<line x1="339.95" y1="124.50" x2="339.95" y2="127.20" stroke="#111" stroke-width="0.8" />
<text x="339.95" y="134.80" font-size="4.8" text-anchor="middle" >5,000</text>
<line x1="356.55" y1="124.50" x2="356.55" y2="127.20" stroke="#111" stroke-width="0.8" />
<text x="356.55" y="134.80" font-size="4.8" text-anchor="middle" >7,500</text>
<line x1="373.15" y1="124.50" x2="373.15" y2="127.20" stroke="#111" stroke-width="0.8" />
<text x="373.15" y="134.80" font-size="4.8" text-anchor="middle" >10,000</text>
<line x1="389.75" y1="124.50" x2="389.75" y2="127.20" stroke="#111" stroke-width="0.8" />
<text x="389.75" y="134.80" font-size="4.8" text-anchor="middle" >12,500</text>
<text x="326.50" y="144.28" font-size="7.0" textLength="54.50" lengthAdjust="spacingAndGlyphs" >Rank in ordered dataset</text>
<line x1="321.25" y1="151.50" x2="325.25" y2="151.50" stroke="#5aaa3a" stroke-width="0.8" />
<text x="329.25" y="153.13" font-size="4.8" textLength="36.00" lengthAdjust="spacingAndGlyphs" >Enrichment profile</text>
<line x1="371.25" y1="151.50" x2="375.25" y2="151.50" stroke="#222" stroke-width="0.9" />
<text x="378.50" y="153.13" font-size="4.8" textLength="6.75" lengthAdjust="spacingAndGlyphs" >Hits</text>
<line x1="324.50" y1="157.20" x2="328.50" y2="157.20" stroke="#999" stroke-width="0.7" />
<line x1="332.00" y1="158.20" x2="336.50" y2="158.20" stroke="#999" stroke-width="0.7" />
<text x="340.00" y="159.38" font-size="4.8" textLength="43.00" lengthAdjust="spacingAndGlyphs" >Ranking metric scores</text>
<text x="310.70" y="100.46" font-size="4.3" fill="#d4463f" textLength="6.55" lengthAdjust="spacingAndGlyphs" >WM</text>
<text x="310.70" y="105.66" font-size="4.3" fill="#d4463f" textLength="41.30" lengthAdjust="spacingAndGlyphs" >(positively correlated)</text>
<path d="M307.35,108.4 L326.75,109.4 L351.75,109.9 L395.50,110.1 L396.50,110.6 L396.50,112.0 L351.75,110.9 L307.35,110.7 Z" fill="#b2b2b2"/>
<rect x="395.40" y="111.50" width="1.10" height="10.80" fill="#d9d9d9" />
<text x="331.90" y="111.66" font-size="4.3" fill="#222" textLength="36.50" lengthAdjust="spacingAndGlyphs" >Zero cross at 6764</text>
<text x="386.70" y="115.86" font-size="4.3" fill="#5a55c0" textLength="6.70" lengthAdjust="spacingAndGlyphs" >HD</text>
<text x="349.80" y="121.06" font-size="4.3" fill="#5a55c0" textLength="44.20" lengthAdjust="spacingAndGlyphs" >(negatively correlated)</text>
<text transform="translate(284.50,55.60) rotate(-90)" x="0" y="0" font-size="6.0" text-anchor="middle" textLength="48.00" lengthAdjust="spacingAndGlyphs" >Enrichment score (ES)</text>
<text transform="translate(283.75,109.50) rotate(-90)" x="0" y="0" font-size="6.0" text-anchor="middle" textLength="40.00" lengthAdjust="spacingAndGlyphs" >Ranked list metric</text>
<text transform="translate(291.25,111.50) rotate(-90)" x="0" y="0" font-size="6.0" text-anchor="middle" textLength="32.00" lengthAdjust="spacingAndGlyphs" >(signal2Noise)</text>
<line x1="304.95" y1="99.20" x2="306.75" y2="99.20" stroke="#111" stroke-width="0.5" />
<text x="304.15" y="100.40" font-size="3.2" text-anchor="end" fill="#666" >1.5</text>
<line x1="304.95" y1="102.80" x2="306.75" y2="102.80" stroke="#111" stroke-width="0.5" />
<text x="304.15" y="104.00" font-size="3.2" text-anchor="end" fill="#666" >1.0</text>
<line x1="304.95" y1="106.40" x2="306.75" y2="106.40" stroke="#111" stroke-width="0.5" />
<text x="304.15" y="107.60" font-size="3.2" text-anchor="end" fill="#666" >0.5</text>
<line x1="304.95" y1="110.00" x2="306.75" y2="110.00" stroke="#111" stroke-width="0.5" />
<text x="304.15" y="111.20" font-size="3.2" text-anchor="end" fill="#666" >0.0</text>
<line x1="304.95" y1="113.60" x2="306.75" y2="113.60" stroke="#111" stroke-width="0.5" />
<text x="304.15" y="114.80" font-size="3.2" text-anchor="end" fill="#666" >-0.5</text>
<line x1="304.95" y1="117.20" x2="306.75" y2="117.20" stroke="#111" stroke-width="0.5" />
<text x="304.15" y="118.40" font-size="3.2" text-anchor="end" fill="#666" >-1.0</text>
<line x1="304.95" y1="120.80" x2="306.75" y2="120.80" stroke="#111" stroke-width="0.5" />
<text x="304.15" y="122.00" font-size="3.2" text-anchor="end" fill="#666" >-1.5</text>
<line x1="45.15" y1="35.80" x2="47.75" y2="35.80" stroke="#111" stroke-width="0.7" />
<text x="33.15" y="37.10" font-size="3.8" fill="#555" textLength="9.20" lengthAdjust="spacingAndGlyphs" >0.40</text>
<line x1="45.15" y1="39.47" x2="47.75" y2="39.47" stroke="#111" stroke-width="0.7" />
<text x="33.15" y="40.77" font-size="3.8" fill="#555" textLength="9.20" lengthAdjust="spacingAndGlyphs" >0.35</text>
<line x1="45.15" y1="43.14" x2="47.75" y2="43.14" stroke="#111" stroke-width="0.7" />
<text x="33.15" y="44.44" font-size="3.8" fill="#555" textLength="9.20" lengthAdjust="spacingAndGlyphs" >0.30</text>
<line x1="45.15" y1="46.81" x2="47.75" y2="46.81" stroke="#111" stroke-width="0.7" />
<text x="33.15" y="48.11" font-size="3.8" fill="#555" textLength="9.20" lengthAdjust="spacingAndGlyphs" >0.25</text>
<line x1="45.15" y1="50.48" x2="47.75" y2="50.48" stroke="#111" stroke-width="0.7" />
<text x="33.15" y="51.78" font-size="3.8" fill="#555" textLength="9.20" lengthAdjust="spacingAndGlyphs" >0.20</text>
<line x1="45.15" y1="54.15" x2="47.75" y2="54.15" stroke="#111" stroke-width="0.7" />
<text x="33.15" y="55.45" font-size="3.8" fill="#555" textLength="9.20" lengthAdjust="spacingAndGlyphs" >0.15</text>
<line x1="45.15" y1="57.82" x2="47.75" y2="57.82" stroke="#111" stroke-width="0.7" />
<text x="33.15" y="59.12" font-size="3.8" fill="#555" textLength="9.20" lengthAdjust="spacingAndGlyphs" >0.10</text>
<line x1="45.15" y1="61.49" x2="47.75" y2="61.49" stroke="#111" stroke-width="0.7" />
<text x="33.15" y="62.79" font-size="3.8" fill="#555" textLength="9.20" lengthAdjust="spacingAndGlyphs" >0.05</text>
<line x1="45.15" y1="65.16" x2="47.75" y2="65.16" stroke="#111" stroke-width="0.7" />
<text x="33.15" y="66.46" font-size="3.8" fill="#555" textLength="9.20" lengthAdjust="spacingAndGlyphs" >0.00</text>
<line x1="45.15" y1="68.83" x2="47.75" y2="68.83" stroke="#111" stroke-width="0.7" />
<text x="33.15" y="70.13" font-size="3.8" fill="#555" textLength="9.20" lengthAdjust="spacingAndGlyphs" >-0.05</text>
<line x1="45.15" y1="72.50" x2="47.75" y2="72.50" stroke="#111" stroke-width="0.7" />
<text x="33.15" y="73.80" font-size="3.8" fill="#555" textLength="9.20" lengthAdjust="spacingAndGlyphs" >-0.10</text>
<line x1="45.15" y1="76.17" x2="47.75" y2="76.17" stroke="#111" stroke-width="0.7" />
<text x="33.15" y="77.47" font-size="3.8" fill="#555" textLength="9.20" lengthAdjust="spacingAndGlyphs" >-0.15</text>
<line x1="174.05" y1="37.50" x2="176.25" y2="37.50" stroke="#111" stroke-width="0.7" />
<text x="172.25" y="39.10" font-size="4.6" text-anchor="end" >0.5</text>
<line x1="174.05" y1="43.46" x2="176.25" y2="43.46" stroke="#111" stroke-width="0.7" />
<text x="172.25" y="45.06" font-size="4.6" text-anchor="end" >0.4</text>
<line x1="174.05" y1="49.42" x2="176.25" y2="49.42" stroke="#111" stroke-width="0.7" />
<text x="172.25" y="51.02" font-size="4.6" text-anchor="end" >0.3</text>
<line x1="174.05" y1="55.38" x2="176.25" y2="55.38" stroke="#111" stroke-width="0.7" />
<text x="172.25" y="56.98" font-size="4.6" text-anchor="end" >0.2</text>
<line x1="174.05" y1="61.34" x2="176.25" y2="61.34" stroke="#111" stroke-width="0.7" />
<text x="172.25" y="62.94" font-size="4.6" text-anchor="end" >0.1</text>
<line x1="174.05" y1="67.30" x2="176.25" y2="67.30" stroke="#111" stroke-width="0.7" />
<text x="172.25" y="68.90" font-size="4.6" text-anchor="end" >0.0</text>
<line x1="174.05" y1="73.26" x2="176.25" y2="73.26" stroke="#111" stroke-width="0.7" />
<text x="172.25" y="74.86" font-size="4.6" text-anchor="end" >-0.1</text>
<line x1="304.15" y1="37.50" x2="306.75" y2="37.50" stroke="#111" stroke-width="0.7" />
<text x="292.15" y="38.80" font-size="3.8" fill="#555" textLength="9.20" lengthAdjust="spacingAndGlyphs" >0.40</text>
<line x1="304.15" y1="41.49" x2="306.75" y2="41.49" stroke="#111" stroke-width="0.7" />
<text x="292.15" y="42.79" font-size="3.8" fill="#555" textLength="9.20" lengthAdjust="spacingAndGlyphs" >0.35</text>
<line x1="304.15" y1="45.48" x2="306.75" y2="45.48" stroke="#111" stroke-width="0.7" />
<text x="292.15" y="46.78" font-size="3.8" fill="#555" textLength="9.20" lengthAdjust="spacingAndGlyphs" >0.30</text>
<line x1="304.15" y1="49.47" x2="306.75" y2="49.47" stroke="#111" stroke-width="0.7" />
<text x="292.15" y="50.77" font-size="3.8" fill="#555" textLength="9.20" lengthAdjust="spacingAndGlyphs" >0.25</text>
<line x1="304.15" y1="53.46" x2="306.75" y2="53.46" stroke="#111" stroke-width="0.7" />
<text x="292.15" y="54.76" font-size="3.8" fill="#555" textLength="9.20" lengthAdjust="spacingAndGlyphs" >0.20</text>
<line x1="304.15" y1="57.45" x2="306.75" y2="57.45" stroke="#111" stroke-width="0.7" />
<text x="292.15" y="58.75" font-size="3.8" fill="#555" textLength="9.20" lengthAdjust="spacingAndGlyphs" >0.15</text>
<line x1="304.15" y1="61.44" x2="306.75" y2="61.44" stroke="#111" stroke-width="0.7" />
<text x="292.15" y="62.74" font-size="3.8" fill="#555" textLength="9.20" lengthAdjust="spacingAndGlyphs" >0.10</text>
<line x1="304.15" y1="65.43" x2="306.75" y2="65.43" stroke="#111" stroke-width="0.7" />
<text x="292.15" y="66.73" font-size="3.8" fill="#555" textLength="9.20" lengthAdjust="spacingAndGlyphs" >0.05</text>
<line x1="304.15" y1="69.42" x2="306.75" y2="69.42" stroke="#111" stroke-width="0.7" />
<text x="292.15" y="70.72" font-size="3.8" fill="#555" textLength="9.20" lengthAdjust="spacingAndGlyphs" >0.00</text>
<line x1="304.15" y1="73.41" x2="306.75" y2="73.41" stroke="#111" stroke-width="0.7" />
<text x="292.15" y="74.71" font-size="3.8" fill="#555" textLength="9.20" lengthAdjust="spacingAndGlyphs" >-0.05</text>
<line x1="304.15" y1="77.40" x2="306.75" y2="77.40" stroke="#111" stroke-width="0.7" />
<text x="292.15" y="78.70" font-size="3.8" fill="#555" textLength="9.20" lengthAdjust="spacingAndGlyphs" >-0.10</text>
<rect x="52.90" y="205.60" width="3.75" height="43.15" fill="#6ab23e" />
<rect x="56.65" y="205.60" width="3.75" height="43.15" fill="#c20032" />
<rect x="60.40" y="206.00" width="3.75" height="42.75" fill="#2d4d8e" />
<line x1="54.77" y1="205.60" x2="54.77" y2="204.40" stroke="#333" stroke-width="0.7" />
<line x1="53.27" y1="204.40" x2="56.27" y2="204.40" stroke="#333" stroke-width="0.8" />
<line x1="58.52" y1="205.60" x2="58.52" y2="204.60" stroke="#333" stroke-width="0.7" />
<line x1="57.02" y1="204.60" x2="60.02" y2="204.60" stroke="#333" stroke-width="0.8" />
<line x1="62.27" y1="206.00" x2="62.27" y2="202.50" stroke="#333" stroke-width="0.7" />
<line x1="60.77" y1="202.50" x2="63.77" y2="202.50" stroke="#333" stroke-width="0.8" />
<rect x="74.00" y="206.25" width="3.75" height="42.50" fill="#6ab23e" />
<rect x="77.75" y="208.00" width="3.75" height="40.75" fill="#c20032" />
<rect x="81.50" y="202.90" width="3.75" height="45.85" fill="#2d4d8e" />
<line x1="75.88" y1="206.25" x2="75.88" y2="204.00" stroke="#333" stroke-width="0.7" />
<line x1="74.38" y1="204.00" x2="77.38" y2="204.00" stroke="#333" stroke-width="0.8" />
<line x1="79.62" y1="208.00" x2="79.62" y2="206.00" stroke="#333" stroke-width="0.7" />
<line x1="78.12" y1="206.00" x2="81.12" y2="206.00" stroke="#333" stroke-width="0.8" />
<line x1="83.38" y1="202.90" x2="83.38" y2="198.75" stroke="#333" stroke-width="0.7" />
<line x1="81.88" y1="198.75" x2="84.88" y2="198.75" stroke="#333" stroke-width="0.8" />
<rect x="95.10" y="208.00" width="3.75" height="40.75" fill="#6ab23e" />
<rect x="98.85" y="207.00" width="3.75" height="41.75" fill="#c20032" />
<rect x="102.60" y="202.90" width="3.75" height="45.85" fill="#2d4d8e" />
<line x1="96.97" y1="208.00" x2="96.97" y2="205.00" stroke="#333" stroke-width="0.7" />
<line x1="95.47" y1="205.00" x2="98.47" y2="205.00" stroke="#333" stroke-width="0.8" />
<line x1="100.72" y1="207.00" x2="100.72" y2="206.00" stroke="#333" stroke-width="0.7" />
<line x1="99.22" y1="206.00" x2="102.22" y2="206.00" stroke="#333" stroke-width="0.8" />
<line x1="104.47" y1="202.90" x2="104.47" y2="197.50" stroke="#333" stroke-width="0.7" />
<line x1="102.97" y1="197.50" x2="105.97" y2="197.50" stroke="#333" stroke-width="0.8" />
<rect x="116.20" y="211.25" width="3.75" height="37.50" fill="#6ab23e" />
<rect x="119.95" y="212.25" width="3.75" height="36.50" fill="#c20032" />
<rect x="123.70" y="209.40" width="3.75" height="39.35" fill="#2d4d8e" />
<line x1="118.08" y1="211.25" x2="118.08" y2="210.00" stroke="#333" stroke-width="0.7" />
<line x1="116.58" y1="210.00" x2="119.58" y2="210.00" stroke="#333" stroke-width="0.8" />
<line x1="121.83" y1="212.25" x2="121.83" y2="211.50" stroke="#333" stroke-width="0.7" />
<line x1="120.33" y1="211.50" x2="123.33" y2="211.50" stroke="#333" stroke-width="0.8" />
<line x1="125.58" y1="209.40" x2="125.58" y2="207.10" stroke="#333" stroke-width="0.7" />
<line x1="124.08" y1="207.10" x2="127.08" y2="207.10" stroke="#333" stroke-width="0.8" />
<rect x="137.40" y="215.90" width="3.75" height="32.85" fill="#6ab23e" />
<rect x="141.15" y="212.90" width="3.75" height="35.85" fill="#c20032" />
<rect x="144.90" y="226.25" width="3.75" height="22.50" fill="#2d4d8e" />
<line x1="139.28" y1="215.90" x2="139.28" y2="213.75" stroke="#333" stroke-width="0.7" />
<line x1="137.78" y1="213.75" x2="140.78" y2="213.75" stroke="#333" stroke-width="0.8" />
<line x1="143.03" y1="212.90" x2="143.03" y2="211.50" stroke="#333" stroke-width="0.7" />
<line x1="141.53" y1="211.50" x2="144.53" y2="211.50" stroke="#333" stroke-width="0.8" />
<line x1="146.78" y1="226.25" x2="146.78" y2="224.10" stroke="#333" stroke-width="0.7" />
<line x1="145.28" y1="224.10" x2="148.28" y2="224.10" stroke="#333" stroke-width="0.8" />
<rect x="158.60" y="234.40" width="3.75" height="14.35" fill="#6ab23e" />
<rect x="162.35" y="222.25" width="3.75" height="26.50" fill="#c20032" />
<rect x="166.10" y="226.00" width="3.75" height="22.75" fill="#2d4d8e" />
<line x1="160.47" y1="234.40" x2="160.47" y2="233.40" stroke="#333" stroke-width="0.7" />
<line x1="158.97" y1="233.40" x2="161.97" y2="233.40" stroke="#333" stroke-width="0.8" />
<line x1="164.22" y1="222.25" x2="164.22" y2="221.50" stroke="#333" stroke-width="0.7" />
<line x1="162.72" y1="221.50" x2="165.72" y2="221.50" stroke="#333" stroke-width="0.8" />
<line x1="167.97" y1="226.00" x2="167.97" y2="220.00" stroke="#333" stroke-width="0.7" />
<line x1="166.47" y1="220.00" x2="169.47" y2="220.00" stroke="#333" stroke-width="0.8" />
<rect x="179.80" y="244.40" width="3.75" height="4.35" fill="#6ab23e" />
<rect x="183.55" y="241.00" width="3.75" height="7.75" fill="#c20032" />
<rect x="187.30" y="244.40" width="3.75" height="4.35" fill="#2d4d8e" />
<line x1="181.68" y1="244.40" x2="181.68" y2="243.50" stroke="#333" stroke-width="0.7" />
<line x1="180.18" y1="243.50" x2="183.18" y2="243.50" stroke="#333" stroke-width="0.8" />
<line x1="185.43" y1="241.00" x2="185.43" y2="237.25" stroke="#333" stroke-width="0.7" />
<line x1="183.93" y1="237.25" x2="186.93" y2="237.25" stroke="#333" stroke-width="0.8" />
<line x1="189.18" y1="244.40" x2="189.18" y2="243.50" stroke="#333" stroke-width="0.7" />
<line x1="187.68" y1="243.50" x2="190.68" y2="243.50" stroke="#333" stroke-width="0.8" />
<line x1="48.50" y1="185.75" x2="48.50" y2="249.15" stroke="#111" stroke-width="0.9" />
<line x1="48.10" y1="248.75" x2="199.40" y2="248.75" stroke="#111" stroke-width="0.9" />
<line x1="45.70" y1="248.75" x2="48.50" y2="248.75" stroke="#111" stroke-width="0.8" />
<text x="42.50" y="250.25" font-size="4.4" text-anchor="end" fill="#555" >0</text>
<line x1="45.70" y1="240.15" x2="48.50" y2="240.15" stroke="#111" stroke-width="0.8" />
<text x="42.50" y="241.65" font-size="4.4" text-anchor="end" fill="#555" >20</text>
<line x1="45.70" y1="231.55" x2="48.50" y2="231.55" stroke="#111" stroke-width="0.8" />
<text x="42.50" y="233.05" font-size="4.4" text-anchor="end" fill="#555" >40</text>
<line x1="45.70" y1="222.95" x2="48.50" y2="222.95" stroke="#111" stroke-width="0.8" />
<text x="42.50" y="224.45" font-size="4.4" text-anchor="end" fill="#555" >60</text>
<line x1="45.70" y1="214.35" x2="48.50" y2="214.35" stroke="#111" stroke-width="0.8" />
<text x="42.50" y="215.85" font-size="4.4" text-anchor="end" fill="#555" >80</text>
<line x1="45.70" y1="205.75" x2="48.50" y2="205.75" stroke="#111" stroke-width="0.8" />
<text x="42.50" y="207.25" font-size="4.4" text-anchor="end" fill="#555" >100</text>
<line x1="45.70" y1="197.15" x2="48.50" y2="197.15" stroke="#111" stroke-width="0.8" />
<text x="42.50" y="198.65" font-size="4.4" text-anchor="end" fill="#555" >120</text>
<line x1="45.70" y1="188.55" x2="48.50" y2="188.55" stroke="#111" stroke-width="0.8" />
<text x="42.50" y="190.05" font-size="4.4" text-anchor="end" fill="#555" >140</text>
<line x1="48.50" y1="248.75" x2="48.50" y2="250.75" stroke="#111" stroke-width="0.7" />
<line x1="69.00" y1="248.75" x2="69.00" y2="250.75" stroke="#111" stroke-width="0.7" />
<line x1="90.25" y1="248.75" x2="90.25" y2="250.75" stroke="#111" stroke-width="0.7" />
<line x1="111.25" y1="248.75" x2="111.25" y2="250.75" stroke="#111" stroke-width="0.7" />
<line x1="132.25" y1="248.75" x2="132.25" y2="250.75" stroke="#111" stroke-width="0.7" />
<line x1="153.50" y1="248.75" x2="153.50" y2="250.75" stroke="#111" stroke-width="0.7" />
<line x1="175.00" y1="248.75" x2="175.00" y2="250.75" stroke="#111" stroke-width="0.7" />
<line x1="196.50" y1="248.75" x2="196.50" y2="250.75" stroke="#111" stroke-width="0.7" />
<text x="79.50" y="258.50" font-size="4.3" text-anchor="middle" fill="#555" >0.1</text>
<text x="100.60" y="258.50" font-size="4.3" text-anchor="middle" fill="#555" >0.3</text>
<text x="122.00" y="258.50" font-size="4.3" text-anchor="middle" fill="#555" >1</text>
<text x="143.50" y="258.50" font-size="4.3" text-anchor="middle" fill="#555" >3</text>
<text x="164.40" y="258.50" font-size="4.3" text-anchor="middle" fill="#555" >6</text>
<text x="185.40" y="258.50" font-size="4.3" text-anchor="middle" fill="#555" >10</text>
<text x="109.30" y="267.44" font-size="5.4" textLength="29.00" lengthAdjust="spacingAndGlyphs" >NSC12 [μM]</text>
<text transform="translate(21.90,217.20) rotate(-90)" x="0" y="0" font-size="6.3" text-anchor="middle" fill="#555" textLength="27.90" lengthAdjust="spacingAndGlyphs" >Cell survival</text>
<text transform="translate(29.40,217.20) rotate(-90)" x="0" y="0" font-size="6.3" text-anchor="middle" fill="#555" textLength="42.10" lengthAdjust="spacingAndGlyphs" >(%, fold of control)</text>
<rect x="202.25" y="185.25" width="6.75" height="7.00" fill="#6ab23e" />
<text x="212.25" y="190.45" font-size="5.0" fill="#555" textLength="17.75" lengthAdjust="spacingAndGlyphs" >BCWM.1</text>
<rect x="202.25" y="195.60" width="6.75" height="6.90" fill="#c20032" />
<text x="212.25" y="200.75" font-size="5.0" fill="#555" textLength="17.05" lengthAdjust="spacingAndGlyphs" >MWCL.1</text>
<rect x="202.25" y="205.90" width="6.75" height="6.85" fill="#2d4d8e" />
<text x="212.25" y="211.02" font-size="5.0" fill="#555" textLength="13.05" lengthAdjust="spacingAndGlyphs" >MEC.1</text>
<path d="M287.00,191.08 L308.00,195.71 L329.00,200.93 L350.00,214.25 L370.50,246.10" fill="none" stroke="#b0153a" stroke-width="1.05" stroke-linejoin="round" stroke-dasharray="1,1"/>
<path d="M287.00,191.08 L308.00,199.77 L329.00,212.51 L350.00,218.30 L370.50,246.10" fill="none" stroke="#b0153a" stroke-width="1.05" stroke-linejoin="round" />
<path d="M287.00,191.08 L308.00,198.61 L329.00,209.61 L350.00,217.72 L370.50,246.10" fill="none" stroke="#b0153a" stroke-width="1.05" stroke-linejoin="round" stroke-dasharray="3,1.6"/>
<line x1="287.00" y1="186.45" x2="287.00" y2="195.71" stroke="#b0153a" stroke-width="0.8" />
<line x1="285.60" y1="186.45" x2="288.40" y2="186.45" stroke="#b0153a" stroke-width="0.8" />
<line x1="285.60" y1="195.71" x2="288.40" y2="195.71" stroke="#b0153a" stroke-width="0.8" />
<rect x="285.50" y="189.58" width="3.00" height="3.00" fill="#b0153a" />
<rect x="285.50" y="189.58" width="3.00" height="3.00" fill="#b0153a" />
<rect x="285.50" y="189.58" width="3.00" height="3.00" fill="#b0153a" />
<line x1="308.00" y1="193.40" x2="308.00" y2="198.03" stroke="#b0153a" stroke-width="0.8" />
<line x1="306.60" y1="193.40" x2="309.40" y2="193.40" stroke="#b0153a" stroke-width="0.8" />
<line x1="306.60" y1="198.03" x2="309.40" y2="198.03" stroke="#b0153a" stroke-width="0.8" />
<line x1="308.00" y1="197.45" x2="308.00" y2="202.08" stroke="#b0153a" stroke-width="0.8" />
<line x1="306.60" y1="197.45" x2="309.40" y2="197.45" stroke="#b0153a" stroke-width="0.8" />
<line x1="306.60" y1="202.08" x2="309.40" y2="202.08" stroke="#b0153a" stroke-width="0.8" />
<rect x="306.50" y="194.21" width="3.00" height="3.00" fill="#b0153a" />
<rect x="306.50" y="198.27" width="3.00" height="3.00" fill="#b0153a" />
<rect x="306.50" y="197.11" width="3.00" height="3.00" fill="#b0153a" />
<line x1="329.00" y1="198.61" x2="329.00" y2="203.24" stroke="#b0153a" stroke-width="0.8" />
<line x1="327.60" y1="198.61" x2="330.40" y2="198.61" stroke="#b0153a" stroke-width="0.8" />
<line x1="327.60" y1="203.24" x2="330.40" y2="203.24" stroke="#b0153a" stroke-width="0.8" />
<line x1="329.00" y1="206.72" x2="329.00" y2="212.51" stroke="#b0153a" stroke-width="0.8" />
<line x1="327.60" y1="206.72" x2="330.40" y2="206.72" stroke="#b0153a" stroke-width="0.8" />
<line x1="327.60" y1="212.51" x2="330.40" y2="212.51" stroke="#b0153a" stroke-width="0.8" />
<line x1="329.00" y1="209.04" x2="329.00" y2="215.99" stroke="#b0153a" stroke-width="0.8" />
<line x1="327.60" y1="209.04" x2="330.40" y2="209.04" stroke="#b0153a" stroke-width="0.8" />
<line x1="327.60" y1="215.99" x2="330.40" y2="215.99" stroke="#b0153a" stroke-width="0.8" />
<rect x="327.50" y="199.43" width="3.00" height="3.00" fill="#b0153a" />
<rect x="327.50" y="211.01" width="3.00" height="3.00" fill="#b0153a" />
<rect x="327.50" y="208.11" width="3.00" height="3.00" fill="#b0153a" />
<line x1="350.00" y1="211.93" x2="350.00" y2="216.56" stroke="#b0153a" stroke-width="0.8" />
<line x1="348.60" y1="211.93" x2="351.40" y2="211.93" stroke="#b0153a" stroke-width="0.8" />
<line x1="348.60" y1="216.56" x2="351.40" y2="216.56" stroke="#b0153a" stroke-width="0.8" />
<line x1="350.00" y1="215.41" x2="350.00" y2="221.20" stroke="#b0153a" stroke-width="0.8" />
<line x1="348.60" y1="215.41" x2="351.40" y2="215.41" stroke="#b0153a" stroke-width="0.8" />
<line x1="348.60" y1="221.20" x2="351.40" y2="221.20" stroke="#b0153a" stroke-width="0.8" />
<rect x="348.50" y="212.75" width="3.00" height="3.00" fill="#b0153a" />
<rect x="348.50" y="216.80" width="3.00" height="3.00" fill="#b0153a" />
<rect x="348.50" y="216.22" width="3.00" height="3.00" fill="#b0153a" />
<line x1="370.50" y1="242.63" x2="370.50" y2="249.58" stroke="#b0153a" stroke-width="0.8" />
<line x1="369.10" y1="242.63" x2="371.90" y2="242.63" stroke="#b0153a" stroke-width="0.8" />
<line x1="369.10" y1="249.58" x2="371.90" y2="249.58" stroke="#b0153a" stroke-width="0.8" />
<rect x="369.00" y="244.60" width="3.00" height="3.00" fill="#b0153a" />
<rect x="369.00" y="244.60" width="3.00" height="3.00" fill="#b0153a" />
<rect x="369.00" y="244.60" width="3.00" height="3.00" fill="#b0153a" />
<line x1="276.25" y1="176.75" x2="276.25" y2="249.40" stroke="#111" stroke-width="1.0" />
<line x1="275.85" y1="249.00" x2="381.00" y2="249.00" stroke="#111" stroke-width="1.0" />
<line x1="273.05" y1="249.00" x2="276.25" y2="249.00" stroke="#111" stroke-width="0.8" />
<text x="270.35" y="250.55" font-size="4.5" text-anchor="end" fill="#555" >0</text>
<line x1="273.05" y1="225.83" x2="276.25" y2="225.83" stroke="#111" stroke-width="0.8" />
<text x="270.35" y="227.38" font-size="4.5" text-anchor="end" fill="#555" >40</text>
<line x1="273.05" y1="202.66" x2="276.25" y2="202.66" stroke="#111" stroke-width="0.8" />
<text x="270.35" y="204.21" font-size="4.5" text-anchor="end" fill="#555" >80</text>
<line x1="273.05" y1="179.50" x2="276.25" y2="179.50" stroke="#111" stroke-width="0.8" />
<text x="270.35" y="181.05" font-size="4.5" text-anchor="end" fill="#555" >120</text>
<line x1="273.05" y1="237.42" x2="276.25" y2="237.42" stroke="#111" stroke-width="0.8" />
<line x1="273.05" y1="214.25" x2="276.25" y2="214.25" stroke="#111" stroke-width="0.8" />
<line x1="273.05" y1="191.08" x2="276.25" y2="191.08" stroke="#111" stroke-width="0.8" />
<line x1="287.00" y1="249.00" x2="287.00" y2="251.80" stroke="#111" stroke-width="0.8" />
<text x="287.00" y="259.05" font-size="4.5" text-anchor="middle" fill="#555" >0</text>
<line x1="308.00" y1="249.00" x2="308.00" y2="251.80" stroke="#111" stroke-width="0.8" />
<text x="308.00" y="259.05" font-size="4.5" text-anchor="middle" fill="#555" >1</text>
<line x1="329.00" y1="249.00" x2="329.00" y2="251.80" stroke="#111" stroke-width="0.8" />
<text x="329.00" y="259.05" font-size="4.5" text-anchor="middle" fill="#555" >3</text>
<line x1="350.00" y1="249.00" x2="350.00" y2="251.80" stroke="#111" stroke-width="0.8" />
<text x="350.00" y="259.05" font-size="4.5" text-anchor="middle" fill="#555" >6</text>
<line x1="370.50" y1="249.00" x2="370.50" y2="251.80" stroke="#111" stroke-width="0.8" />
<text x="370.50" y="259.05" font-size="4.5" text-anchor="middle" fill="#555" >10</text>
<text x="314.50" y="268.09" font-size="5.4" fill="#444" textLength="29.25" lengthAdjust="spacingAndGlyphs" >NSC12 [μM]</text>
<text transform="translate(250.30,212.50) rotate(-90)" x="0" y="0" font-size="6.3" text-anchor="middle" fill="#555" textLength="28.40" lengthAdjust="spacingAndGlyphs" >Cell survival</text>
<text transform="translate(257.70,212.50) rotate(-90)" x="0" y="0" font-size="6.3" text-anchor="middle" fill="#555" textLength="41.70" lengthAdjust="spacingAndGlyphs" >(%, fold of control)</text>
<text x="384.25" y="182.25" font-size="4.4" textLength="29.25" lengthAdjust="spacingAndGlyphs" >WM-BM CD19</text>
<text x="413.80" y="179.20" font-size="3.0" >+</text>
<line x1="384.25" y1="189.00" x2="403.00" y2="189.00" stroke="#b0153a" stroke-width="1.05" stroke-dasharray="1,1"/>
<text x="406.25" y="190.63" font-size="4.8" textLength="5.25" lengthAdjust="spacingAndGlyphs" >#1</text>
<line x1="384.25" y1="196.75" x2="403.00" y2="196.75" stroke="#b0153a" stroke-width="1.05" />
<text x="406.25" y="198.38" font-size="4.8" textLength="5.25" lengthAdjust="spacingAndGlyphs" >#2</text>
<line x1="384.25" y1="204.75" x2="403.00" y2="204.75" stroke="#b0153a" stroke-width="1.05" stroke-dasharray="3,1.6"/>
<text x="406.25" y="206.38" font-size="4.8" textLength="5.25" lengthAdjust="spacingAndGlyphs" >#3</text>
<path d="M59.40,301.50 L83.00,301.50 L105.60,305.40 L129.00,305.40 L152.60,315.15" fill="none" stroke="#b0153a" stroke-width="1.05" stroke-linejoin="round" />
<path d="M59.40,301.50 L83.00,298.90 L105.60,300.85 L129.00,310.60 L152.60,319.05" fill="none" stroke="#b0153a" stroke-width="1.05" stroke-linejoin="round" stroke-dasharray="3,1.6"/>
<path d="M59.40,301.50 L83.00,306.05 L105.60,304.75 L129.00,312.55 L152.60,324.25" fill="none" stroke="#b0153a" stroke-width="1.05" stroke-linejoin="round" stroke-dasharray="1,1"/>
<path d="M59.40,301.50 L83.00,298.25 L105.60,302.15 L129.00,309.30 L152.60,329.45" fill="none" stroke="#b0153a" stroke-width="1.05" stroke-linejoin="round" stroke-dasharray="3.5,1.2,1,1.2"/>
<line x1="59.40" y1="296.95" x2="59.40" y2="306.05" stroke="#b0153a" stroke-width="0.8" />
<line x1="58.00" y1="296.95" x2="60.80" y2="296.95" stroke="#b0153a" stroke-width="0.8" />
<line x1="58.00" y1="306.05" x2="60.80" y2="306.05" stroke="#b0153a" stroke-width="0.8" />
<rect x="57.90" y="300.00" width="3.00" height="3.00" fill="#b0153a" />
<rect x="57.90" y="300.00" width="3.00" height="3.00" fill="#b0153a" />
<rect x="57.90" y="300.00" width="3.00" height="3.00" fill="#b0153a" />
<rect x="57.90" y="300.00" width="3.00" height="3.00" fill="#b0153a" />
<line x1="83.00" y1="291.75" x2="83.00" y2="306.05" stroke="#b0153a" stroke-width="0.8" />
<line x1="81.60" y1="291.75" x2="84.40" y2="291.75" stroke="#b0153a" stroke-width="0.8" />
<line x1="81.60" y1="306.05" x2="84.40" y2="306.05" stroke="#b0153a" stroke-width="0.8" />
<line x1="83.00" y1="303.45" x2="83.00" y2="308.65" stroke="#b0153a" stroke-width="0.8" />
<line x1="81.60" y1="303.45" x2="84.40" y2="303.45" stroke="#b0153a" stroke-width="0.8" />
<line x1="81.60" y1="308.65" x2="84.40" y2="308.65" stroke="#b0153a" stroke-width="0.8" />
<rect x="81.50" y="300.00" width="3.00" height="3.00" fill="#b0153a" />
<rect x="81.50" y="297.40" width="3.00" height="3.00" fill="#b0153a" />
<rect x="81.50" y="304.55" width="3.00" height="3.00" fill="#b0153a" />
<rect x="81.50" y="296.75" width="3.00" height="3.00" fill="#b0153a" />
<line x1="105.60" y1="296.95" x2="105.60" y2="306.05" stroke="#b0153a" stroke-width="0.8" />
<line x1="104.20" y1="296.95" x2="107.00" y2="296.95" stroke="#b0153a" stroke-width="0.8" />
<line x1="104.20" y1="306.05" x2="107.00" y2="306.05" stroke="#b0153a" stroke-width="0.8" />
<line x1="105.60" y1="302.15" x2="105.60" y2="307.35" stroke="#b0153a" stroke-width="0.8" />
<line x1="104.20" y1="302.15" x2="107.00" y2="302.15" stroke="#b0153a" stroke-width="0.8" />
<line x1="104.20" y1="307.35" x2="107.00" y2="307.35" stroke="#b0153a" stroke-width="0.8" />
<rect x="104.10" y="303.90" width="3.00" height="3.00" fill="#b0153a" />
<rect x="104.10" y="299.35" width="3.00" height="3.00" fill="#b0153a" />
<rect x="104.10" y="303.25" width="3.00" height="3.00" fill="#b0153a" />
<rect x="104.10" y="300.65" width="3.00" height="3.00" fill="#b0153a" />
<line x1="129.00" y1="302.15" x2="129.00" y2="313.85" stroke="#b0153a" stroke-width="0.8" />
<line x1="127.60" y1="302.15" x2="130.40" y2="302.15" stroke="#b0153a" stroke-width="0.8" />
<line x1="127.60" y1="313.85" x2="130.40" y2="313.85" stroke="#b0153a" stroke-width="0.8" />
<line x1="129.00" y1="308.00" x2="129.00" y2="315.80" stroke="#b0153a" stroke-width="0.8" />
<line x1="127.60" y1="308.00" x2="130.40" y2="308.00" stroke="#b0153a" stroke-width="0.8" />
<line x1="127.60" y1="315.80" x2="130.40" y2="315.80" stroke="#b0153a" stroke-width="0.8" />
<rect x="127.50" y="303.90" width="3.00" height="3.00" fill="#b0153a" />
<rect x="127.50" y="309.10" width="3.00" height="3.00" fill="#b0153a" />
<rect x="127.50" y="311.05" width="3.00" height="3.00" fill="#b0153a" />
<rect x="127.50" y="307.80" width="3.00" height="3.00" fill="#b0153a" />
<line x1="152.60" y1="309.95" x2="152.60" y2="322.95" stroke="#b0153a" stroke-width="0.8" />
<line x1="151.20" y1="309.95" x2="154.00" y2="309.95" stroke="#b0153a" stroke-width="0.8" />
<line x1="151.20" y1="322.95" x2="154.00" y2="322.95" stroke="#b0153a" stroke-width="0.8" />
<line x1="152.60" y1="321.00" x2="152.60" y2="334.00" stroke="#b0153a" stroke-width="0.8" />
<line x1="151.20" y1="321.00" x2="154.00" y2="321.00" stroke="#b0153a" stroke-width="0.8" />
<line x1="151.20" y1="334.00" x2="154.00" y2="334.00" stroke="#b0153a" stroke-width="0.8" />
<rect x="151.10" y="313.65" width="3.00" height="3.00" fill="#b0153a" />
<rect x="151.10" y="317.55" width="3.00" height="3.00" fill="#b0153a" />
<rect x="151.10" y="322.75" width="3.00" height="3.00" fill="#b0153a" />
<rect x="151.10" y="327.95" width="3.00" height="3.00" fill="#b0153a" />
<line x1="47.50" y1="286.75" x2="47.50" y2="366.90" stroke="#111" stroke-width="1.0" />
<line x1="47.10" y1="366.50" x2="163.75" y2="366.50" stroke="#111" stroke-width="1.0" />
<line x1="44.30" y1="366.50" x2="47.50" y2="366.50" stroke="#111" stroke-width="0.8" />
<text x="41.60" y="368.05" font-size="4.5" text-anchor="end" fill="#555" >0</text>
<line x1="44.30" y1="340.50" x2="47.50" y2="340.50" stroke="#111" stroke-width="0.8" />
<text x="41.60" y="342.05" font-size="4.5" text-anchor="end" fill="#555" >40</text>
<line x1="44.30" y1="314.50" x2="47.50" y2="314.50" stroke="#111" stroke-width="0.8" />
<text x="41.60" y="316.05" font-size="4.5" text-anchor="end" fill="#555" >80</text>
<line x1="44.30" y1="288.50" x2="47.50" y2="288.50" stroke="#111" stroke-width="0.8" />
<text x="41.60" y="290.05" font-size="4.5" text-anchor="end" fill="#555" >120</text>
<line x1="44.30" y1="353.50" x2="47.50" y2="353.50" stroke="#111" stroke-width="0.8" />
<line x1="44.30" y1="327.50" x2="47.50" y2="327.50" stroke="#111" stroke-width="0.8" />
<line x1="44.30" y1="301.50" x2="47.50" y2="301.50" stroke="#111" stroke-width="0.8" />
<line x1="59.40" y1="366.50" x2="59.40" y2="369.30" stroke="#111" stroke-width="0.8" />
<text x="59.40" y="376.55" font-size="4.5" text-anchor="middle" fill="#555" >0</text>
<line x1="83.00" y1="366.50" x2="83.00" y2="369.30" stroke="#111" stroke-width="0.8" />
<text x="83.00" y="376.55" font-size="4.5" text-anchor="middle" fill="#555" >1</text>
<line x1="105.60" y1="366.50" x2="105.60" y2="369.30" stroke="#111" stroke-width="0.8" />
<text x="105.60" y="376.55" font-size="4.5" text-anchor="middle" fill="#555" >3</text>
<line x1="129.00" y1="366.50" x2="129.00" y2="369.30" stroke="#111" stroke-width="0.8" />
<text x="129.00" y="376.55" font-size="4.5" text-anchor="middle" fill="#555" >6</text>
<line x1="152.60" y1="366.50" x2="152.60" y2="369.30" stroke="#111" stroke-width="0.8" />
<text x="152.60" y="376.55" font-size="4.5" text-anchor="middle" fill="#555" >10</text>
<text x="91.25" y="386.20" font-size="5.0" fill="#444" textLength="30.00" lengthAdjust="spacingAndGlyphs" >NSC12 [μM]</text>
<text transform="translate(21.90,326.70) rotate(-90)" x="0" y="0" font-size="6.3" text-anchor="middle" fill="#555" textLength="28.00" lengthAdjust="spacingAndGlyphs" >Cell survival</text>
<text transform="translate(29.40,326.70) rotate(-90)" x="0" y="0" font-size="6.3" text-anchor="middle" fill="#555" textLength="43.00" lengthAdjust="spacingAndGlyphs" >(%, fold of control)</text>
<text x="167.00" y="292.18" font-size="4.2" textLength="24.80" lengthAdjust="spacingAndGlyphs" >PBMC CD19</text>
<text x="192.00" y="289.20" font-size="3.0" >+</text>
<line x1="167.00" y1="298.75" x2="185.00" y2="298.75" stroke="#b0153a" stroke-width="1.05" />
<text x="188.75" y="300.38" font-size="4.8" textLength="5.25" lengthAdjust="spacingAndGlyphs" >#1</text>
<line x1="167.00" y1="306.75" x2="185.00" y2="306.75" stroke="#b0153a" stroke-width="1.05" stroke-dasharray="3,1.6"/>
<text x="188.75" y="308.38" font-size="4.8" textLength="5.25" lengthAdjust="spacingAndGlyphs" >#2</text>
<line x1="167.00" y1="314.50" x2="185.00" y2="314.50" stroke="#b0153a" stroke-width="1.05" stroke-dasharray="1,1"/>
<text x="188.75" y="316.13" font-size="4.8" textLength="5.25" lengthAdjust="spacingAndGlyphs" >#3</text>
<line x1="167.00" y1="322.50" x2="185.00" y2="322.50" stroke="#b0153a" stroke-width="1.05" stroke-dasharray="3.5,1.2,1,1.2"/>
<text x="188.75" y="324.13" font-size="4.8" textLength="5.25" lengthAdjust="spacingAndGlyphs" >#4</text>
<text x="293.75" y="292.68" font-size="6.4" fill="#222" textLength="25.75" lengthAdjust="spacingAndGlyphs" >BCWM.1</text>
<text x="433.75" y="292.48" font-size="6.4" fill="#222" textLength="25.00" lengthAdjust="spacingAndGlyphs" >MWCL.1</text>
<line x1="240.00" y1="297.20" x2="373.00" y2="297.20" stroke="#111" stroke-width="1.1" />
<line x1="379.50" y1="297.20" x2="513.00" y2="297.20" stroke="#111" stroke-width="1.1" />
<line x1="237.70" y1="302.00" x2="237.70" y2="594.30" stroke="#111" stroke-width="1.1" />
<text transform="translate(233.90,448.00) rotate(-90)" x="0" y="0" font-size="7.6" text-anchor="middle" fill="#444" textLength="53.70" lengthAdjust="spacingAndGlyphs" >FGFR-SIGNALING</text>
<line x1="296.30" y1="334.85" x2="296.30" y2="371.30" stroke="#eeeeee" stroke-width="0.5" />
<line x1="318.80" y1="334.85" x2="318.80" y2="371.30" stroke="#eeeeee" stroke-width="0.5" />
<line x1="341.30" y1="334.85" x2="341.30" y2="371.30" stroke="#eeeeee" stroke-width="0.5" />
<line x1="363.80" y1="334.85" x2="363.80" y2="371.30" stroke="#eeeeee" stroke-width="0.5" />
<line x1="274.00" y1="369.20" x2="368.20" y2="369.20" stroke="#c4c4c4" stroke-width="0.6" />
<path d="M273.90,368.50 L275.00,362.00 L275.80,357.90 L276.75,359.41 L277.70,360.80 L279.00,357.50 L279.80,356.04 L280.60,355.00 L282.00,354.50 L283.50,352.10 L284.45,350.98 L285.40,349.20 L286.30,347.50 L287.30,344.40 L288.25,344.25 L289.20,343.50 L290.50,342.80 L291.30,342.13 L292.10,341.50 L293.50,342.50 L295.00,339.60 L295.95,340.21 L296.90,340.60 L297.70,339.10 L298.50,338.00 L299.80,336.70 L300.65,337.06 L301.50,337.80 L302.60,337.80 L303.70,338.10 L304.60,338.78 L305.50,339.20 L306.50,338.75 L307.50,338.70 L308.50,338.48 L309.50,337.60 L310.40,337.35 L311.30,337.70 L312.40,337.89 L313.50,338.50 L314.40,338.58 L315.30,339.42 L316.20,339.60 L317.15,340.16 L318.10,340.88 L319.05,341.43 L320.00,342.20 L320.95,343.10 L321.90,343.73 L322.85,344.40 L323.80,345.40 L324.74,345.97 L325.68,346.50 L326.62,346.99 L327.56,348.11 L328.50,348.50 L329.33,349.23 L330.17,349.82 L331.00,350.57 L331.83,350.83 L332.67,351.42 L333.50,352.10 L334.40,352.89 L335.30,353.71 L336.20,354.74 L337.10,355.11 L338.00,356.30 L338.83,357.02 L339.67,357.82 L340.50,358.44 L341.33,358.97 L342.17,360.19 L343.00,360.80 L344.00,361.36 L345.00,362.65 L346.00,363.50 L346.93,363.96 L347.87,364.57 L348.80,365.60 L349.70,365.94 L350.60,366.43 L351.50,367.30 L352.53,367.46 L353.57,368.23 L354.60,368.50 L355.57,368.79 L356.53,368.67 L357.50,368.90 L358.47,369.04 L359.43,368.95 L360.40,369.00 L361.20,369.40 L362.00,369.80 L363.10,369.86 L364.20,369.40" fill="none" stroke="#5aaa3a" stroke-width="1.15" stroke-linejoin="round" />
<line x1="273.50" y1="371.30" x2="368.70" y2="371.30" stroke="#dddddd" stroke-width="0.5" />
<line x1="274.40" y1="371.60" x2="274.40" y2="384.90" stroke="#000" stroke-width="0.6" stroke-opacity="0.72"/>
<line x1="276.66" y1="371.60" x2="276.66" y2="384.90" stroke="#000" stroke-width="0.5" stroke-opacity="0.62"/>
<line x1="278.12" y1="371.60" x2="278.12" y2="384.90" stroke="#000" stroke-width="0.6" stroke-opacity="0.79"/>
<line x1="279.58" y1="371.60" x2="279.58" y2="384.90" stroke="#000" stroke-width="0.6" stroke-opacity="0.51"/>
<line x1="280.45" y1="371.60" x2="280.45" y2="384.90" stroke="#000" stroke-width="0.8" stroke-opacity="0.48"/>
<line x1="283.50" y1="371.60" x2="283.50" y2="384.90" stroke="#000" stroke-width="0.8" stroke-opacity="0.65"/>
<line x1="285.89" y1="371.60" x2="285.89" y2="384.90" stroke="#000" stroke-width="0.6" stroke-opacity="0.57"/>
<line x1="288.34" y1="371.60" x2="288.34" y2="384.90" stroke="#000" stroke-width="0.6" stroke-opacity="0.88"/>
<line x1="289.47" y1="371.60" x2="289.47" y2="384.90" stroke="#000" stroke-width="0.7" stroke-opacity="0.51"/>
<line x1="290.66" y1="371.60" x2="290.66" y2="384.90" stroke="#000" stroke-width="0.7" stroke-opacity="0.63"/>
<line x1="300.06" y1="371.60" x2="300.06" y2="384.90" stroke="#000" stroke-width="0.5" stroke-opacity="0.92"/>
<line x1="302.87" y1="371.60" x2="302.87" y2="384.90" stroke="#000" stroke-width="0.8" stroke-opacity="0.42"/>
<line x1="304.32" y1="371.60" x2="304.32" y2="384.90" stroke="#000" stroke-width="0.6" stroke-opacity="0.87"/>
<line x1="305.31" y1="371.60" x2="305.31" y2="384.90" stroke="#000" stroke-width="0.6" stroke-opacity="0.75"/>
<line x1="306.58" y1="371.60" x2="306.58" y2="384.90" stroke="#000" stroke-width="0.6" stroke-opacity="0.71"/>
<line x1="307.39" y1="371.60" x2="307.39" y2="384.90" stroke="#000" stroke-width="0.5" stroke-opacity="0.53"/>
<line x1="308.29" y1="371.60" x2="308.29" y2="384.90" stroke="#000" stroke-width="0.7" stroke-opacity="0.61"/>
<line x1="309.33" y1="371.60" x2="309.33" y2="384.90" stroke="#000" stroke-width="0.8" stroke-opacity="0.79"/>
<line x1="310.30" y1="371.60" x2="310.30" y2="384.90" stroke="#000" stroke-width="0.6" stroke-opacity="0.79"/>
<line x1="311.12" y1="371.60" x2="311.12" y2="384.90" stroke="#000" stroke-width="0.8" stroke-opacity="0.81"/>
<line x1="312.44" y1="371.60" x2="312.44" y2="384.90" stroke="#000" stroke-width="0.7" stroke-opacity="0.79"/>
<line x1="313.32" y1="371.60" x2="313.32" y2="384.90" stroke="#000" stroke-width="0.8" stroke-opacity="0.82"/>
<line x1="317.28" y1="371.60" x2="317.28" y2="384.90" stroke="#000" stroke-width="0.6" stroke-opacity="0.61"/>
<line x1="326.54" y1="371.60" x2="326.54" y2="384.90" stroke="#000" stroke-width="0.6" stroke-opacity="0.91"/>
<line x1="330.78" y1="371.60" x2="330.78" y2="384.90" stroke="#000" stroke-width="0.6" stroke-opacity="0.82"/>
<line x1="334.94" y1="371.60" x2="334.94" y2="384.90" stroke="#000" stroke-width="0.6" stroke-opacity="0.93"/>
<line x1="338.11" y1="371.60" x2="338.11" y2="384.90" stroke="#000" stroke-width="0.6" stroke-opacity="0.69"/>
<line x1="339.33" y1="371.60" x2="339.33" y2="384.90" stroke="#000" stroke-width="0.6" stroke-opacity="0.88"/>
<line x1="341.00" y1="371.60" x2="341.00" y2="384.90" stroke="#000" stroke-width="0.5" stroke-opacity="0.43"/>
<line x1="346.38" y1="371.60" x2="346.38" y2="384.90" stroke="#000" stroke-width="0.8" stroke-opacity="0.74"/>
<line x1="347.30" y1="371.60" x2="347.30" y2="384.90" stroke="#000" stroke-width="0.7" stroke-opacity="0.64"/>
<line x1="348.33" y1="371.60" x2="348.33" y2="384.90" stroke="#000" stroke-width="0.6" stroke-opacity="0.50"/>
<line x1="349.49" y1="371.60" x2="349.49" y2="384.90" stroke="#000" stroke-width="0.7" stroke-opacity="0.75"/>
<line x1="351.61" y1="371.60" x2="351.61" y2="384.90" stroke="#000" stroke-width="0.6" stroke-opacity="0.76"/>
<line x1="352.42" y1="371.60" x2="352.42" y2="384.90" stroke="#000" stroke-width="0.7" stroke-opacity="0.93"/>
<line x1="354.55" y1="371.60" x2="354.55" y2="384.90" stroke="#000" stroke-width="0.8" stroke-opacity="0.85"/>
<line x1="355.40" y1="371.60" x2="355.40" y2="384.90" stroke="#000" stroke-width="0.6" stroke-opacity="0.79"/>
<line x1="356.43" y1="371.60" x2="356.43" y2="384.90" stroke="#000" stroke-width="0.6" stroke-opacity="0.54"/>
<line x1="359.05" y1="371.60" x2="359.05" y2="384.90" stroke="#000" stroke-width="0.7" stroke-opacity="0.86"/>
<line x1="360.11" y1="371.60" x2="360.11" y2="384.90" stroke="#000" stroke-width="0.5" stroke-opacity="0.49"/>
<line x1="360.93" y1="371.60" x2="360.93" y2="384.90" stroke="#000" stroke-width="0.7" stroke-opacity="0.50"/>
<rect x="273.50" y="334.35" width="95.20" height="78.65" fill="none" stroke="#111" stroke-width="1.1"/>
<rect x="274.00" y="384.90" width="15.45" height="3.20" fill="#d03233" />
<rect x="289.40" y="384.90" width="14.55" height="3.20" fill="#d84a4c" />
<rect x="303.90" y="384.90" width="14.09" height="3.20" fill="#dc6270" />
<rect x="317.94" y="384.90" width="17.26" height="3.20" fill="#e4a9d5" />
<rect x="335.16" y="384.90" width="12.28" height="3.20" fill="#cac6ef" />
<rect x="347.39" y="384.90" width="6.84" height="3.20" fill="#9b93d9" />
<rect x="354.18" y="384.90" width="10.47" height="3.20" fill="#3d2d9c" />
<path d="M274.10,388.40 L276.10,388.98 L282.10,390.85 L292.10,393.05 L306.10,396.90 L322.80,398.33 L334.80,399.10 L274.10,399.10 Z" fill="#c2c2c2"/>
<path d="M334.80,399.10 L346.80,400.42 L350.60,402.40 L359.60,404.38 L363.10,407.35 L364.60,411.50 L364.60,399.10 Z" fill="#c2c2c2"/>
<text x="276.60" y="392.23" font-size="4.5" fill="#d9443c" textLength="47.70" lengthAdjust="spacingAndGlyphs" >NSC12 [0μM] (positively</text>
<text x="302.90" y="397.13" font-size="4.5" fill="#d9443c" textLength="21.00" lengthAdjust="spacingAndGlyphs" >correlated)</text>
<text x="309.50" y="402.33" font-size="4.5" fill="#222" textLength="32.00" lengthAdjust="spacingAndGlyphs" >Zero cross at 13736</text>
<text x="323.60" y="406.13" font-size="4.5" fill="#5a52c4" textLength="21.40" lengthAdjust="spacingAndGlyphs" >NSC12 [6μM]</text>
<text x="323.60" y="411.23" font-size="4.5" fill="#5a52c4" textLength="42.70" lengthAdjust="spacingAndGlyphs" >(negatively correlated)</text>
<rect x="273.50" y="334.35" width="95.20" height="78.65" fill="none" stroke="#111" stroke-width="1.1"/>
<line x1="269.90" y1="337.50" x2="273.50" y2="337.50" stroke="#111" stroke-width="0.9" />
<text x="266.90" y="338.80" font-size="3.8" text-anchor="end" fill="#555" textLength="8.60" lengthAdjust="spacingAndGlyphs" >0.35</text>
<line x1="269.90" y1="342.04" x2="273.50" y2="342.04" stroke="#111" stroke-width="0.9" />
<text x="266.90" y="343.34" font-size="3.8" text-anchor="end" fill="#555" textLength="8.60" lengthAdjust="spacingAndGlyphs" >0.30</text>
<line x1="269.90" y1="346.58" x2="273.50" y2="346.58" stroke="#111" stroke-width="0.9" />
<text x="266.90" y="347.88" font-size="3.8" text-anchor="end" fill="#555" textLength="8.60" lengthAdjust="spacingAndGlyphs" >0.25</text>
<line x1="269.90" y1="351.12" x2="273.50" y2="351.12" stroke="#111" stroke-width="0.9" />
<text x="266.90" y="352.42" font-size="3.8" text-anchor="end" fill="#555" textLength="8.60" lengthAdjust="spacingAndGlyphs" >0.20</text>
<line x1="269.90" y1="355.66" x2="273.50" y2="355.66" stroke="#111" stroke-width="0.9" />
<text x="266.90" y="356.96" font-size="3.8" text-anchor="end" fill="#555" textLength="8.60" lengthAdjust="spacingAndGlyphs" >0.15</text>
<line x1="269.90" y1="360.20" x2="273.50" y2="360.20" stroke="#111" stroke-width="0.9" />
<text x="266.90" y="361.50" font-size="3.8" text-anchor="end" fill="#555" textLength="8.60" lengthAdjust="spacingAndGlyphs" >0.10</text>
<line x1="269.90" y1="364.74" x2="273.50" y2="364.74" stroke="#111" stroke-width="0.9" />
<text x="266.90" y="366.04" font-size="3.8" text-anchor="end" fill="#555" textLength="8.60" lengthAdjust="spacingAndGlyphs" >0.05</text>
<line x1="269.90" y1="369.28" x2="273.50" y2="369.28" stroke="#111" stroke-width="0.9" />
<text x="266.90" y="370.58" font-size="3.8" text-anchor="end" fill="#555" textLength="8.60" lengthAdjust="spacingAndGlyphs" >-0.00</text>
<line x1="271.70" y1="387.50" x2="273.50" y2="387.50" stroke="#111" stroke-width="0.6" />
<text x="270.30" y="388.80" font-size="3.9" text-anchor="end" fill="#555" >4</text>
<line x1="271.70" y1="393.30" x2="273.50" y2="393.30" stroke="#111" stroke-width="0.6" />
<text x="270.30" y="394.60" font-size="3.9" text-anchor="end" fill="#555" >2</text>
<line x1="271.70" y1="399.10" x2="273.50" y2="399.10" stroke="#111" stroke-width="0.6" />
<text x="270.30" y="400.40" font-size="3.9" text-anchor="end" fill="#555" >0</text>
<line x1="271.70" y1="404.90" x2="273.50" y2="404.90" stroke="#111" stroke-width="0.6" />
<text x="270.30" y="406.20" font-size="3.9" text-anchor="end" fill="#555" >-2</text>
<line x1="271.70" y1="410.70" x2="273.50" y2="410.70" stroke="#111" stroke-width="0.6" />
<text x="270.30" y="412.00" font-size="3.9" text-anchor="end" fill="#555" >-4</text>
<text x="364.50" y="341.00" font-size="4.6" text-anchor="end" fill="#555" >FDR 0.10</text>
<text x="364.50" y="346.60" font-size="4.6" text-anchor="end" fill="#555" >P&lt;0.01</text>
<text x="294.02" y="306.00" font-size="6.4" fill="#222" textLength="48.75" lengthAdjust="spacingAndGlyphs" >Enrichment plot:</text>
<text x="272.90" y="314.00" font-size="6.4" fill="#222" textLength="91.00" lengthAdjust="spacingAndGlyphs" >REACTOME_DOWNSTREAM_</text>
<text x="277.65" y="322.00" font-size="6.4" fill="#222" textLength="81.50" lengthAdjust="spacingAndGlyphs" >SIGNALING_OF_ACTIVATE</text>
<text x="305.90" y="330.00" font-size="6.4" fill="#222" textLength="25.00" lengthAdjust="spacingAndGlyphs" >D_FGFR</text>
<line x1="273.80" y1="413.00" x2="273.80" y2="415.80" stroke="#111" stroke-width="0.8" />
<text x="273.80" y="423.00" font-size="4.6" text-anchor="middle" >0</text>
<line x1="296.30" y1="413.00" x2="296.30" y2="415.80" stroke="#111" stroke-width="0.8" />
<text x="296.30" y="423.00" font-size="4.6" text-anchor="middle" >5,000</text>
<line x1="318.80" y1="413.00" x2="318.80" y2="415.80" stroke="#111" stroke-width="0.8" />
<text x="318.80" y="423.00" font-size="4.6" text-anchor="middle" >10,000</text>
<line x1="341.30" y1="413.00" x2="341.30" y2="415.80" stroke="#111" stroke-width="0.8" />
<text x="341.30" y="423.00" font-size="4.6" text-anchor="middle" >15,000</text>
<line x1="363.80" y1="413.00" x2="363.80" y2="415.80" stroke="#111" stroke-width="0.8" />
<text x="363.80" y="423.00" font-size="4.6" text-anchor="middle" >20,000</text>
<text x="293.60" y="433.28" font-size="7.0" textLength="54.50" lengthAdjust="spacingAndGlyphs" >Rank in ordered dataset</text>
<line x1="288.00" y1="440.00" x2="292.00" y2="440.00" stroke="#5aaa3a" stroke-width="0.9" />
<text x="295.00" y="441.70" font-size="5.0" textLength="36.50" lengthAdjust="spacingAndGlyphs" >Enrichment profile</text>
<line x1="338.00" y1="440.00" x2="343.70" y2="440.00" stroke="#222" stroke-width="1.0" />
<text x="346.25" y="441.70" font-size="5.0" textLength="7.50" lengthAdjust="spacingAndGlyphs" >Hits</text>
<line x1="291.25" y1="446.00" x2="295.00" y2="446.00" stroke="#888" stroke-width="0.7" />
<line x1="298.75" y1="447.00" x2="303.00" y2="447.00" stroke="#888" stroke-width="0.7" />
<text x="306.25" y="448.20" font-size="5.0" textLength="43.25" lengthAdjust="spacingAndGlyphs" >Ranking metric scores</text>
<text transform="translate(247.00,355.00) rotate(-90)" x="0" y="0" font-size="6.5" text-anchor="middle" fill="#444" textLength="39.50" lengthAdjust="spacingAndGlyphs" >Enrichment score</text>
<text transform="translate(254.60,355.00) rotate(-90)" x="0" y="0" font-size="6.5" text-anchor="middle" fill="#444" textLength="9.80" lengthAdjust="spacingAndGlyphs" >(ES)</text>
<text transform="translate(254.20,400.00) rotate(-90)" x="0" y="0" font-size="6.5" text-anchor="middle" fill="#444" textLength="39.50" lengthAdjust="spacingAndGlyphs" >Ranked list metric</text>
<text transform="translate(261.60,400.60) rotate(-90)" x="0" y="0" font-size="6.5" text-anchor="middle" fill="#444" textLength="34.50" lengthAdjust="spacingAndGlyphs" >(signal2Noise)</text>
<line x1="435.30" y1="334.90" x2="435.30" y2="372.50" stroke="#eeeeee" stroke-width="0.5" />
<line x1="458.05" y1="334.90" x2="458.05" y2="372.50" stroke="#eeeeee" stroke-width="0.5" />
<line x1="480.80" y1="334.90" x2="480.80" y2="372.50" stroke="#eeeeee" stroke-width="0.5" />
<line x1="503.55" y1="334.90" x2="503.55" y2="372.50" stroke="#eeeeee" stroke-width="0.5" />
<line x1="412.75" y1="364.20" x2="507.70" y2="364.20" stroke="#c4c4c4" stroke-width="0.6" />
<path d="M412.80,361.50 L413.80,356.00 L414.70,352.00 L415.70,349.20 L417.00,348.80 L417.80,348.73 L418.60,348.30 L420.00,346.50 L421.50,344.40 L423.00,344.80 L424.30,343.50 L425.30,342.50 L426.30,341.50 L427.70,343.00 L429.20,342.50 L430.50,341.00 L432.00,341.50 L433.50,340.50 L434.90,339.60 L436.30,337.50 L437.80,336.30 L438.90,336.75 L440.00,337.00 L440.87,337.17 L441.73,337.26 L442.60,337.70 L443.57,338.26 L444.53,338.90 L445.50,339.00 L446.47,339.48 L447.43,340.31 L448.40,340.60 L449.33,340.84 L450.27,341.75 L451.20,342.30 L452.20,342.79 L453.20,343.70 L454.20,344.40 L455.15,345.33 L456.10,346.35 L457.05,346.97 L458.00,347.80 L458.95,348.91 L459.90,349.38 L460.85,350.09 L461.80,351.20 L462.74,351.94 L463.68,352.87 L464.62,353.63 L465.56,353.92 L466.50,355.00 L467.33,355.46 L468.17,356.09 L469.00,356.88 L469.83,357.79 L470.67,358.01 L471.50,358.80 L472.30,358.96 L473.10,360.04 L473.90,360.50 L474.70,360.91 L475.50,361.20 L476.43,361.35 L477.35,361.98 L478.27,362.40 L479.20,363.10 L480.13,363.69 L481.07,363.44 L482.00,364.00 L482.97,363.94 L483.93,364.20 L484.90,364.60 L485.80,365.35 L486.70,365.49 L487.60,366.59 L488.50,366.80 L489.32,367.19 L490.14,367.95 L490.96,368.14 L491.78,368.73 L492.60,369.40 L493.55,369.21 L494.50,368.50 L495.50,368.35 L496.50,367.50 L497.33,367.69 L498.17,368.13 L499.00,368.60 L500.07,368.12 L501.13,368.05 L502.20,368.10 L503.20,367.50 L503.60,364.20" fill="none" stroke="#5aaa3a" stroke-width="1.15" stroke-linejoin="round" />
<line x1="412.25" y1="372.50" x2="508.20" y2="372.50" stroke="#dddddd" stroke-width="0.5" />
<line x1="413.15" y1="372.80" x2="413.15" y2="384.90" stroke="#000" stroke-width="0.6" stroke-opacity="0.85"/>
<line x1="415.65" y1="372.80" x2="415.65" y2="384.90" stroke="#000" stroke-width="0.5" stroke-opacity="0.51"/>
<line x1="417.15" y1="372.80" x2="417.15" y2="384.90" stroke="#000" stroke-width="0.6" stroke-opacity="0.44"/>
<line x1="418.06" y1="372.80" x2="418.06" y2="384.90" stroke="#000" stroke-width="0.7" stroke-opacity="0.93"/>
<line x1="419.37" y1="372.80" x2="419.37" y2="384.90" stroke="#000" stroke-width="0.8" stroke-opacity="0.63"/>
<line x1="420.85" y1="372.80" x2="420.85" y2="384.90" stroke="#000" stroke-width="0.8" stroke-opacity="0.42"/>
<line x1="421.88" y1="372.80" x2="421.88" y2="384.90" stroke="#000" stroke-width="0.8" stroke-opacity="0.39"/>
<line x1="423.41" y1="372.80" x2="423.41" y2="384.90" stroke="#000" stroke-width="0.7" stroke-opacity="0.67"/>
<line x1="425.81" y1="372.80" x2="425.81" y2="384.90" stroke="#000" stroke-width="0.7" stroke-opacity="0.62"/>
<line x1="427.18" y1="372.80" x2="427.18" y2="384.90" stroke="#000" stroke-width="0.6" stroke-opacity="0.83"/>
<line x1="428.65" y1="372.80" x2="428.65" y2="384.90" stroke="#000" stroke-width="0.5" stroke-opacity="0.81"/>
<line x1="430.05" y1="372.80" x2="430.05" y2="384.90" stroke="#000" stroke-width="0.7" stroke-opacity="0.61"/>
<line x1="431.09" y1="372.80" x2="431.09" y2="384.90" stroke="#000" stroke-width="0.5" stroke-opacity="0.81"/>
<line x1="431.93" y1="372.80" x2="431.93" y2="384.90" stroke="#000" stroke-width="0.5" stroke-opacity="0.61"/>
<line x1="439.62" y1="372.80" x2="439.62" y2="384.90" stroke="#000" stroke-width="0.8" stroke-opacity="0.60"/>
<line x1="440.68" y1="372.80" x2="440.68" y2="384.90" stroke="#000" stroke-width="0.6" stroke-opacity="0.54"/>
<line x1="442.24" y1="372.80" x2="442.24" y2="384.90" stroke="#000" stroke-width="0.6" stroke-opacity="0.39"/>
<line x1="443.83" y1="372.80" x2="443.83" y2="384.90" stroke="#000" stroke-width="0.6" stroke-opacity="0.48"/>
<line x1="444.83" y1="372.80" x2="444.83" y2="384.90" stroke="#000" stroke-width="0.6" stroke-opacity="0.40"/>
<line x1="445.73" y1="372.80" x2="445.73" y2="384.90" stroke="#000" stroke-width="0.7" stroke-opacity="0.42"/>
<line x1="447.38" y1="372.80" x2="447.38" y2="384.90" stroke="#000" stroke-width="0.6" stroke-opacity="0.43"/>
<line x1="448.43" y1="372.80" x2="448.43" y2="384.90" stroke="#000" stroke-width="0.8" stroke-opacity="0.86"/>
<line x1="450.71" y1="372.80" x2="450.71" y2="384.90" stroke="#000" stroke-width="0.8" stroke-opacity="0.81"/>
<line x1="456.74" y1="372.80" x2="456.74" y2="384.90" stroke="#000" stroke-width="0.5" stroke-opacity="0.92"/>
<line x1="458.35" y1="372.80" x2="458.35" y2="384.90" stroke="#000" stroke-width="0.6" stroke-opacity="0.81"/>
<line x1="459.26" y1="372.80" x2="459.26" y2="384.90" stroke="#000" stroke-width="0.6" stroke-opacity="0.65"/>
<line x1="463.93" y1="372.80" x2="463.93" y2="384.90" stroke="#000" stroke-width="0.8" stroke-opacity="0.44"/>
<line x1="465.11" y1="372.80" x2="465.11" y2="384.90" stroke="#000" stroke-width="0.8" stroke-opacity="0.87"/>
<line x1="468.52" y1="372.80" x2="468.52" y2="384.90" stroke="#000" stroke-width="0.7" stroke-opacity="0.69"/>
<line x1="469.47" y1="372.80" x2="469.47" y2="384.90" stroke="#000" stroke-width="0.5" stroke-opacity="0.44"/>
<line x1="471.04" y1="372.80" x2="471.04" y2="384.90" stroke="#000" stroke-width="0.8" stroke-opacity="0.57"/>
<line x1="472.33" y1="372.80" x2="472.33" y2="384.90" stroke="#000" stroke-width="0.7" stroke-opacity="0.71"/>
<line x1="475.61" y1="372.80" x2="475.61" y2="384.90" stroke="#000" stroke-width="0.5" stroke-opacity="0.86"/>
<line x1="476.75" y1="372.80" x2="476.75" y2="384.90" stroke="#000" stroke-width="0.7" stroke-opacity="0.89"/>
<line x1="478.26" y1="372.80" x2="478.26" y2="384.90" stroke="#000" stroke-width="0.5" stroke-opacity="0.88"/>
<line x1="479.46" y1="372.80" x2="479.46" y2="384.90" stroke="#000" stroke-width="0.5" stroke-opacity="0.78"/>
<line x1="481.70" y1="372.80" x2="481.70" y2="384.90" stroke="#000" stroke-width="0.5" stroke-opacity="0.60"/>
<line x1="483.22" y1="372.80" x2="483.22" y2="384.90" stroke="#000" stroke-width="0.7" stroke-opacity="0.79"/>
<line x1="484.43" y1="372.80" x2="484.43" y2="384.90" stroke="#000" stroke-width="0.7" stroke-opacity="0.70"/>
<line x1="485.53" y1="372.80" x2="485.53" y2="384.90" stroke="#000" stroke-width="0.5" stroke-opacity="0.86"/>
<line x1="487.49" y1="372.80" x2="487.49" y2="384.90" stroke="#000" stroke-width="0.6" stroke-opacity="0.56"/>
<line x1="488.61" y1="372.80" x2="488.61" y2="384.90" stroke="#000" stroke-width="0.5" stroke-opacity="0.49"/>
<line x1="491.76" y1="372.80" x2="491.76" y2="384.90" stroke="#000" stroke-width="0.7" stroke-opacity="0.41"/>
<line x1="493.13" y1="372.80" x2="493.13" y2="384.90" stroke="#000" stroke-width="0.5" stroke-opacity="0.42"/>
<line x1="495.71" y1="372.80" x2="495.71" y2="384.90" stroke="#000" stroke-width="0.6" stroke-opacity="0.41"/>
<line x1="498.65" y1="372.80" x2="498.65" y2="384.90" stroke="#000" stroke-width="0.7" stroke-opacity="0.63"/>
<line x1="501.02" y1="372.80" x2="501.02" y2="384.90" stroke="#000" stroke-width="0.6" stroke-opacity="0.87"/>
<rect x="412.25" y="334.40" width="95.95" height="78.60" fill="none" stroke="#111" stroke-width="1.1"/>
<rect x="412.75" y="384.90" width="19.17" height="3.20" fill="#d03233" />
<rect x="431.87" y="384.90" width="20.08" height="3.20" fill="#da5658" />
<rect x="451.90" y="384.90" width="14.62" height="3.20" fill="#e4a9d5" />
<rect x="466.47" y="384.90" width="10.07" height="3.20" fill="#cac6ef" />
<rect x="476.49" y="384.90" width="10.07" height="3.20" fill="#aca4e4" />
<rect x="486.50" y="384.90" width="7.33" height="3.20" fill="#6a5ebf" />
<rect x="493.78" y="384.90" width="10.07" height="3.20" fill="#3d2d9c" />
<path d="M412.85,388.40 L414.85,388.98 L420.85,390.85 L430.85,393.05 L444.85,396.90 L455.50,398.33 L467.50,399.10 L412.85,399.10 Z" fill="#c2c2c2"/>
<path d="M467.50,399.10 L479.50,400.42 L489.80,402.40 L498.80,404.38 L502.30,407.35 L503.80,411.50 L503.80,399.10 Z" fill="#c2c2c2"/>
<text x="415.00" y="392.23" font-size="4.5" fill="#d9443c" textLength="46.50" lengthAdjust="spacingAndGlyphs" >NSC12 [0μM] (positively</text>
<text x="439.80" y="397.13" font-size="4.5" fill="#d9443c" textLength="21.20" lengthAdjust="spacingAndGlyphs" >correlated)</text>
<text x="445.50" y="402.33" font-size="4.5" fill="#222" textLength="34.50" lengthAdjust="spacingAndGlyphs" >Zero cross at 12113</text>
<text x="460.00" y="406.13" font-size="4.5" fill="#5a52c4" textLength="26.00" lengthAdjust="spacingAndGlyphs" >NSC12 [6μM]</text>
<text x="460.00" y="411.23" font-size="4.5" fill="#5a52c4" textLength="43.30" lengthAdjust="spacingAndGlyphs" >(negatively correlated)</text>
<rect x="412.25" y="334.40" width="95.95" height="78.60" fill="none" stroke="#111" stroke-width="1.1"/>
<line x1="408.65" y1="340.50" x2="412.25" y2="340.50" stroke="#111" stroke-width="0.9" />
<text x="405.85" y="342.10" font-size="4.6" text-anchor="end" fill="#444" >0.3</text>
<line x1="408.65" y1="348.30" x2="412.25" y2="348.30" stroke="#111" stroke-width="0.9" />
<text x="405.85" y="349.90" font-size="4.6" text-anchor="end" fill="#444" >0.2</text>
<line x1="408.65" y1="356.20" x2="412.25" y2="356.20" stroke="#111" stroke-width="0.9" />
<text x="405.85" y="357.80" font-size="4.6" text-anchor="end" fill="#444" >0.1</text>
<line x1="408.65" y1="364.20" x2="412.25" y2="364.20" stroke="#111" stroke-width="0.9" />
<text x="405.85" y="365.80" font-size="4.6" text-anchor="end" fill="#444" >0.0</text>
<line x1="408.65" y1="372.00" x2="412.25" y2="372.00" stroke="#111" stroke-width="0.9" />
<text x="405.85" y="373.60" font-size="4.6" text-anchor="end" fill="#444" >-0.1</text>
<line x1="410.45" y1="387.50" x2="412.25" y2="387.50" stroke="#111" stroke-width="0.6" />
<text x="409.05" y="388.80" font-size="3.9" text-anchor="end" fill="#555" >4</text>
<line x1="410.45" y1="393.30" x2="412.25" y2="393.30" stroke="#111" stroke-width="0.6" />
<text x="409.05" y="394.60" font-size="3.9" text-anchor="end" fill="#555" >2</text>
<line x1="410.45" y1="399.10" x2="412.25" y2="399.10" stroke="#111" stroke-width="0.6" />
<text x="409.05" y="400.40" font-size="3.9" text-anchor="end" fill="#555" >0</text>
<line x1="410.45" y1="404.90" x2="412.25" y2="404.90" stroke="#111" stroke-width="0.6" />
<text x="409.05" y="406.20" font-size="3.9" text-anchor="end" fill="#555" >-2</text>
<line x1="410.45" y1="410.70" x2="412.25" y2="410.70" stroke="#111" stroke-width="0.6" />
<text x="409.05" y="412.00" font-size="3.9" text-anchor="end" fill="#555" >-4</text>
<text x="503.00" y="342.30" font-size="4.6" text-anchor="end" fill="#555" >FDR 0.09</text>
<text x="503.00" y="347.20" font-size="4.6" text-anchor="end" fill="#555" >P&lt;0.01</text>
<text x="435.62" y="306.00" font-size="6.4" fill="#222" textLength="48.75" lengthAdjust="spacingAndGlyphs" >Enrichment plot:</text>
<text x="414.50" y="314.00" font-size="6.4" fill="#222" textLength="91.00" lengthAdjust="spacingAndGlyphs" >REACTOME_DOWNSTREAM_</text>
<text x="419.25" y="322.00" font-size="6.4" fill="#222" textLength="81.50" lengthAdjust="spacingAndGlyphs" >SIGNALING_OF_ACTIVATE</text>
<text x="447.50" y="330.00" font-size="6.4" fill="#222" textLength="25.00" lengthAdjust="spacingAndGlyphs" >D_FGFR</text>
<line x1="412.55" y1="413.00" x2="412.55" y2="415.80" stroke="#111" stroke-width="0.8" />
<text x="412.55" y="423.00" font-size="4.6" text-anchor="middle" >0</text>
<line x1="435.30" y1="413.00" x2="435.30" y2="415.80" stroke="#111" stroke-width="0.8" />
<text x="435.30" y="423.00" font-size="4.6" text-anchor="middle" >5,000</text>
<line x1="458.05" y1="413.00" x2="458.05" y2="415.80" stroke="#111" stroke-width="0.8" />
<text x="458.05" y="423.00" font-size="4.6" text-anchor="middle" >10,000</text>
<line x1="480.80" y1="413.00" x2="480.80" y2="415.80" stroke="#111" stroke-width="0.8" />
<text x="480.80" y="423.00" font-size="4.6" text-anchor="middle" >15,000</text>
<line x1="503.55" y1="413.00" x2="503.55" y2="415.80" stroke="#111" stroke-width="0.8" />
<text x="503.55" y="423.00" font-size="4.6" text-anchor="middle" >20,000</text>
<text x="432.35" y="433.28" font-size="7.0" textLength="54.50" lengthAdjust="spacingAndGlyphs" >Rank in ordered dataset</text>
<line x1="426.75" y1="440.00" x2="430.75" y2="440.00" stroke="#5aaa3a" stroke-width="0.9" />
<text x="433.75" y="441.70" font-size="5.0" textLength="36.50" lengthAdjust="spacingAndGlyphs" >Enrichment profile</text>
<line x1="476.75" y1="440.00" x2="482.45" y2="440.00" stroke="#222" stroke-width="1.0" />
<text x="485.00" y="441.70" font-size="5.0" textLength="7.50" lengthAdjust="spacingAndGlyphs" >Hits</text>
<line x1="430.00" y1="446.00" x2="433.75" y2="446.00" stroke="#888" stroke-width="0.7" />
<line x1="437.50" y1="447.00" x2="441.75" y2="447.00" stroke="#888" stroke-width="0.7" />
<text x="445.00" y="448.20" font-size="5.0" textLength="43.25" lengthAdjust="spacingAndGlyphs" >Ranking metric scores</text>
<text transform="translate(385.75,355.00) rotate(-90)" x="0" y="0" font-size="6.5" text-anchor="middle" fill="#444" textLength="39.50" lengthAdjust="spacingAndGlyphs" >Enrichment score</text>
<text transform="translate(393.35,355.00) rotate(-90)" x="0" y="0" font-size="6.5" text-anchor="middle" fill="#444" textLength="9.80" lengthAdjust="spacingAndGlyphs" >(ES)</text>
<text transform="translate(392.95,400.00) rotate(-90)" x="0" y="0" font-size="6.5" text-anchor="middle" fill="#444" textLength="39.50" lengthAdjust="spacingAndGlyphs" >Ranked list metric</text>
<text transform="translate(400.35,400.60) rotate(-90)" x="0" y="0" font-size="6.5" text-anchor="middle" fill="#444" textLength="34.50" lengthAdjust="spacingAndGlyphs" >(signal2Noise)</text>
<line x1="295.70" y1="470.90" x2="295.70" y2="513.00" stroke="#eeeeee" stroke-width="0.5" />
<line x1="317.60" y1="470.90" x2="317.60" y2="513.00" stroke="#eeeeee" stroke-width="0.5" />
<line x1="339.50" y1="470.90" x2="339.50" y2="513.00" stroke="#eeeeee" stroke-width="0.5" />
<line x1="361.40" y1="470.90" x2="361.40" y2="513.00" stroke="#eeeeee" stroke-width="0.5" />
<line x1="274.00" y1="507.50" x2="366.30" y2="507.50" stroke="#c4c4c4" stroke-width="0.6" />
<path d="M273.90,507.50 L275.00,504.00 L276.25,501.25 L277.50,500.00 L278.75,498.75 L280.00,499.50 L281.25,497.00 L282.50,491.25 L283.70,492.00 L285.00,492.50 L286.30,490.50 L287.50,488.75 L288.40,488.80 L289.30,489.50 L290.27,490.08 L291.25,490.00 L292.50,481.25 L293.70,477.00 L295.00,473.75 L295.90,473.41 L296.80,473.50 L297.77,473.35 L298.75,472.50 L299.62,473.31 L300.50,473.50 L301.50,474.08 L302.50,475.00 L303.45,474.51 L304.40,474.00 L305.32,473.80 L306.25,473.75 L307.12,473.41 L308.00,473.20 L309.00,473.43 L310.00,473.25 L311.00,474.06 L312.00,474.25 L313.00,475.00 L313.81,475.66 L314.62,476.38 L315.44,476.94 L316.25,477.50 L317.10,477.94 L317.95,478.82 L318.80,479.60 L319.65,480.60 L320.50,481.00 L321.40,482.03 L322.30,482.72 L323.20,483.25 L324.10,484.51 L325.00,485.00 L325.83,485.64 L326.67,486.55 L327.50,487.26 L328.33,488.40 L329.17,489.37 L330.00,490.00 L330.83,490.97 L331.67,491.90 L332.50,492.64 L333.33,493.44 L334.17,493.99 L335.00,495.00 L335.83,496.07 L336.67,496.84 L337.50,497.41 L338.33,498.35 L339.17,499.02 L340.00,499.50 L340.83,500.47 L341.67,501.10 L342.50,501.84 L343.33,502.47 L344.17,502.78 L345.00,503.75 L345.80,504.44 L346.60,504.55 L347.40,505.20 L348.20,505.83 L349.00,506.00 L349.88,506.37 L350.75,506.59 L351.62,507.16 L352.50,507.50 L353.33,507.93 L354.17,508.07 L355.00,508.00 L355.83,508.61 L356.67,508.82 L357.50,508.80 L358.50,508.71 L359.50,508.20 L361.00,509.30 L362.30,507.80" fill="none" stroke="#5aaa3a" stroke-width="1.15" stroke-linejoin="round" />
<line x1="273.50" y1="513.00" x2="366.80" y2="513.00" stroke="#dddddd" stroke-width="0.5" />
<line x1="274.40" y1="513.30" x2="274.40" y2="527.00" stroke="#000" stroke-width="0.8" stroke-opacity="0.62"/>
<line x1="276.70" y1="513.30" x2="276.70" y2="527.00" stroke="#000" stroke-width="0.5" stroke-opacity="0.79"/>
<line x1="277.55" y1="513.30" x2="277.55" y2="527.00" stroke="#000" stroke-width="0.7" stroke-opacity="0.76"/>
<line x1="278.70" y1="513.30" x2="278.70" y2="527.00" stroke="#000" stroke-width="0.7" stroke-opacity="0.59"/>
<line x1="282.65" y1="513.30" x2="282.65" y2="527.00" stroke="#000" stroke-width="0.7" stroke-opacity="0.53"/>
<line x1="286.23" y1="513.30" x2="286.23" y2="527.00" stroke="#000" stroke-width="0.8" stroke-opacity="0.48"/>
<line x1="288.69" y1="513.30" x2="288.69" y2="527.00" stroke="#000" stroke-width="0.5" stroke-opacity="0.54"/>
<line x1="289.85" y1="513.30" x2="289.85" y2="527.00" stroke="#000" stroke-width="0.6" stroke-opacity="0.49"/>
<line x1="292.42" y1="513.30" x2="292.42" y2="527.00" stroke="#000" stroke-width="0.6" stroke-opacity="0.88"/>
<line x1="293.78" y1="513.30" x2="293.78" y2="527.00" stroke="#000" stroke-width="0.8" stroke-opacity="0.47"/>
<line x1="295.05" y1="513.30" x2="295.05" y2="527.00" stroke="#000" stroke-width="0.8" stroke-opacity="0.58"/>
<line x1="295.89" y1="513.30" x2="295.89" y2="527.00" stroke="#000" stroke-width="0.7" stroke-opacity="0.65"/>
<line x1="298.02" y1="513.30" x2="298.02" y2="527.00" stroke="#000" stroke-width="0.8" stroke-opacity="0.43"/>
<line x1="299.41" y1="513.30" x2="299.41" y2="527.00" stroke="#000" stroke-width="0.5" stroke-opacity="0.70"/>
<line x1="300.24" y1="513.30" x2="300.24" y2="527.00" stroke="#000" stroke-width="0.7" stroke-opacity="0.74"/>
<line x1="301.32" y1="513.30" x2="301.32" y2="527.00" stroke="#000" stroke-width="0.5" stroke-opacity="0.51"/>
<line x1="307.57" y1="513.30" x2="307.57" y2="527.00" stroke="#000" stroke-width="0.6" stroke-opacity="0.55"/>
<line x1="308.87" y1="513.30" x2="308.87" y2="527.00" stroke="#000" stroke-width="0.7" stroke-opacity="0.68"/>
<line x1="310.85" y1="513.30" x2="310.85" y2="527.00" stroke="#000" stroke-width="0.7" stroke-opacity="0.59"/>
<line x1="312.52" y1="513.30" x2="312.52" y2="527.00" stroke="#000" stroke-width="0.8" stroke-opacity="0.92"/>
<line x1="313.85" y1="513.30" x2="313.85" y2="527.00" stroke="#000" stroke-width="0.8" stroke-opacity="0.55"/>
<line x1="317.04" y1="513.30" x2="317.04" y2="527.00" stroke="#000" stroke-width="0.7" stroke-opacity="0.56"/>
<line x1="319.60" y1="513.30" x2="319.60" y2="527.00" stroke="#000" stroke-width="0.6" stroke-opacity="0.92"/>
<line x1="321.29" y1="513.30" x2="321.29" y2="527.00" stroke="#000" stroke-width="0.8" stroke-opacity="0.61"/>
<line x1="322.95" y1="513.30" x2="322.95" y2="527.00" stroke="#000" stroke-width="0.5" stroke-opacity="0.75"/>
<line x1="324.48" y1="513.30" x2="324.48" y2="527.00" stroke="#000" stroke-width="0.5" stroke-opacity="0.65"/>
<line x1="325.66" y1="513.30" x2="325.66" y2="527.00" stroke="#000" stroke-width="0.8" stroke-opacity="0.82"/>
<line x1="326.58" y1="513.30" x2="326.58" y2="527.00" stroke="#000" stroke-width="0.7" stroke-opacity="0.70"/>
<line x1="329.64" y1="513.30" x2="329.64" y2="527.00" stroke="#000" stroke-width="0.7" stroke-opacity="0.54"/>
<line x1="330.99" y1="513.30" x2="330.99" y2="527.00" stroke="#000" stroke-width="0.6" stroke-opacity="0.63"/>
<line x1="332.10" y1="513.30" x2="332.10" y2="527.00" stroke="#000" stroke-width="0.8" stroke-opacity="0.72"/>
<line x1="334.40" y1="513.30" x2="334.40" y2="527.00" stroke="#000" stroke-width="0.7" stroke-opacity="0.92"/>
<line x1="335.52" y1="513.30" x2="335.52" y2="527.00" stroke="#000" stroke-width="0.8" stroke-opacity="0.47"/>
<line x1="337.10" y1="513.30" x2="337.10" y2="527.00" stroke="#000" stroke-width="0.6" stroke-opacity="0.80"/>
<line x1="338.69" y1="513.30" x2="338.69" y2="527.00" stroke="#000" stroke-width="0.5" stroke-opacity="0.66"/>
<line x1="339.83" y1="513.30" x2="339.83" y2="527.00" stroke="#000" stroke-width="0.7" stroke-opacity="0.63"/>
<line x1="340.70" y1="513.30" x2="340.70" y2="527.00" stroke="#000" stroke-width="0.6" stroke-opacity="0.88"/>
<line x1="342.07" y1="513.30" x2="342.07" y2="527.00" stroke="#000" stroke-width="0.7" stroke-opacity="0.48"/>
<line x1="343.70" y1="513.30" x2="343.70" y2="527.00" stroke="#000" stroke-width="0.7" stroke-opacity="0.84"/>
<line x1="345.31" y1="513.30" x2="345.31" y2="527.00" stroke="#000" stroke-width="0.8" stroke-opacity="0.59"/>
<line x1="347.49" y1="513.30" x2="347.49" y2="527.00" stroke="#000" stroke-width="0.5" stroke-opacity="0.84"/>
<line x1="349.03" y1="513.30" x2="349.03" y2="527.00" stroke="#000" stroke-width="0.6" stroke-opacity="0.49"/>
<line x1="350.40" y1="513.30" x2="350.40" y2="527.00" stroke="#000" stroke-width="0.5" stroke-opacity="0.50"/>
<line x1="352.10" y1="513.30" x2="352.10" y2="527.00" stroke="#000" stroke-width="0.8" stroke-opacity="0.87"/>
<line x1="353.34" y1="513.30" x2="353.34" y2="527.00" stroke="#000" stroke-width="0.7" stroke-opacity="0.81"/>
<line x1="354.28" y1="513.30" x2="354.28" y2="527.00" stroke="#000" stroke-width="0.8" stroke-opacity="0.74"/>
<line x1="356.81" y1="513.30" x2="356.81" y2="527.00" stroke="#000" stroke-width="0.5" stroke-opacity="0.47"/>
<line x1="359.03" y1="513.30" x2="359.03" y2="527.00" stroke="#000" stroke-width="0.7" stroke-opacity="0.77"/>
<line x1="360.04" y1="513.30" x2="360.04" y2="527.00" stroke="#000" stroke-width="0.7" stroke-opacity="0.77"/>
<rect x="273.50" y="470.40" width="93.30" height="88.90" fill="none" stroke="#111" stroke-width="1.1"/>
<rect x="274.00" y="527.00" width="15.08" height="3.30" fill="#d03233" />
<rect x="289.03" y="527.00" width="14.19" height="3.30" fill="#d84a4c" />
<rect x="303.17" y="527.00" width="13.75" height="3.30" fill="#dc6270" />
<rect x="316.87" y="527.00" width="16.85" height="3.30" fill="#e4a9d5" />
<rect x="333.67" y="527.00" width="11.98" height="3.30" fill="#cac6ef" />
<rect x="345.60" y="527.00" width="6.68" height="3.30" fill="#9b93d9" />
<rect x="352.23" y="527.00" width="10.22" height="3.30" fill="#3d2d9c" />
<path d="M274.10,530.60 L276.10,531.36 L282.10,533.62 L292.10,536.28 L306.10,540.94 L326.00,542.67 L338.00,543.60 L274.10,543.60 Z" fill="#c2c2c2"/>
<path d="M338.00,543.60 L350.00,545.20 L348.40,547.59 L357.40,549.98 L360.90,553.58 L362.40,557.80 L362.40,543.60 Z" fill="#c2c2c2"/>
<text x="276.80" y="535.53" font-size="4.5" fill="#d9443c" textLength="47.10" lengthAdjust="spacingAndGlyphs" >NSC12 [0μM] (positively</text>
<text x="305.70" y="540.53" font-size="4.5" fill="#d9443c" textLength="18.20" lengthAdjust="spacingAndGlyphs" >correlated)</text>
<text x="310.50" y="545.73" font-size="4.5" fill="#222" textLength="33.60" lengthAdjust="spacingAndGlyphs" >Zero cross at 13736</text>
<text x="320.00" y="551.53" font-size="4.5" fill="#5a52c4" textLength="22.20" lengthAdjust="spacingAndGlyphs" >NSC12 [6μM]</text>
<text x="320.00" y="556.73" font-size="4.5" fill="#5a52c4" textLength="43.90" lengthAdjust="spacingAndGlyphs" >(negatively correlated)</text>
<rect x="273.50" y="470.40" width="93.30" height="88.90" fill="none" stroke="#111" stroke-width="1.1"/>
<line x1="269.90" y1="471.25" x2="273.50" y2="471.25" stroke="#111" stroke-width="0.9" />
<text x="266.90" y="472.55" font-size="3.8" text-anchor="end" fill="#555" textLength="8.60" lengthAdjust="spacingAndGlyphs" >0.40</text>
<line x1="269.90" y1="475.83" x2="273.50" y2="475.83" stroke="#111" stroke-width="0.9" />
<text x="266.90" y="477.13" font-size="3.8" text-anchor="end" fill="#555" textLength="8.60" lengthAdjust="spacingAndGlyphs" >0.35</text>
<line x1="269.90" y1="480.41" x2="273.50" y2="480.41" stroke="#111" stroke-width="0.9" />
<text x="266.90" y="481.71" font-size="3.8" text-anchor="end" fill="#555" textLength="8.60" lengthAdjust="spacingAndGlyphs" >0.30</text>
<line x1="269.90" y1="484.99" x2="273.50" y2="484.99" stroke="#111" stroke-width="0.9" />
<text x="266.90" y="486.29" font-size="3.8" text-anchor="end" fill="#555" textLength="8.60" lengthAdjust="spacingAndGlyphs" >0.25</text>
<line x1="269.90" y1="489.57" x2="273.50" y2="489.57" stroke="#111" stroke-width="0.9" />
<text x="266.90" y="490.87" font-size="3.8" text-anchor="end" fill="#555" textLength="8.60" lengthAdjust="spacingAndGlyphs" >0.20</text>
<line x1="269.90" y1="494.15" x2="273.50" y2="494.15" stroke="#111" stroke-width="0.9" />
<text x="266.90" y="495.45" font-size="3.8" text-anchor="end" fill="#555" textLength="8.60" lengthAdjust="spacingAndGlyphs" >0.15</text>
<line x1="269.90" y1="498.73" x2="273.50" y2="498.73" stroke="#111" stroke-width="0.9" />
<text x="266.90" y="500.03" font-size="3.8" text-anchor="end" fill="#555" textLength="8.60" lengthAdjust="spacingAndGlyphs" >0.10</text>
<line x1="269.90" y1="503.31" x2="273.50" y2="503.31" stroke="#111" stroke-width="0.9" />
<text x="266.90" y="504.61" font-size="3.8" text-anchor="end" fill="#555" textLength="8.60" lengthAdjust="spacingAndGlyphs" >0.05</text>
<line x1="269.90" y1="507.89" x2="273.50" y2="507.89" stroke="#111" stroke-width="0.9" />
<text x="266.90" y="509.19" font-size="3.8" text-anchor="end" fill="#555" textLength="8.60" lengthAdjust="spacingAndGlyphs" >0.00</text>
<line x1="269.90" y1="512.47" x2="273.50" y2="512.47" stroke="#111" stroke-width="0.9" />
<text x="266.90" y="513.77" font-size="3.8" text-anchor="end" fill="#555" textLength="8.60" lengthAdjust="spacingAndGlyphs" >-0.05</text>
<line x1="271.70" y1="531.60" x2="273.50" y2="531.60" stroke="#111" stroke-width="0.6" />
<text x="270.30" y="532.90" font-size="3.9" text-anchor="end" fill="#555" >4</text>
<line x1="271.70" y1="537.60" x2="273.50" y2="537.60" stroke="#111" stroke-width="0.6" />
<text x="270.30" y="538.90" font-size="3.9" text-anchor="end" fill="#555" >2</text>
<line x1="271.70" y1="543.60" x2="273.50" y2="543.60" stroke="#111" stroke-width="0.6" />
<text x="270.30" y="544.90" font-size="3.9" text-anchor="end" fill="#555" >0</text>
<line x1="271.70" y1="549.60" x2="273.50" y2="549.60" stroke="#111" stroke-width="0.6" />
<text x="270.30" y="550.90" font-size="3.9" text-anchor="end" fill="#555" >-2</text>
<line x1="271.70" y1="555.60" x2="273.50" y2="555.60" stroke="#111" stroke-width="0.6" />
<text x="270.30" y="556.90" font-size="3.9" text-anchor="end" fill="#555" >-4</text>
<text x="361.90" y="476.60" font-size="4.6" text-anchor="end" fill="#555" >FDR 0.10</text>
<text x="361.90" y="481.50" font-size="4.6" text-anchor="end" fill="#555" >P&lt;0.01</text>
<text x="295.50" y="457.00" font-size="6.4" fill="#222" textLength="49.00" lengthAdjust="spacingAndGlyphs" >Enrichment plot:</text>
<text x="267.25" y="465.00" font-size="6.4" fill="#222" textLength="105.50" lengthAdjust="spacingAndGlyphs" >REACTOME_SIGNALING_BY_FGFR</text>
<line x1="273.80" y1="559.30" x2="273.80" y2="562.10" stroke="#111" stroke-width="0.8" />
<text x="273.80" y="569.40" font-size="4.6" text-anchor="middle" >0</text>
<line x1="295.70" y1="559.30" x2="295.70" y2="562.10" stroke="#111" stroke-width="0.8" />
<text x="295.70" y="569.40" font-size="4.6" text-anchor="middle" >5,000</text>
<line x1="317.60" y1="559.30" x2="317.60" y2="562.10" stroke="#111" stroke-width="0.8" />
<text x="317.60" y="569.40" font-size="4.6" text-anchor="middle" >10,000</text>
<line x1="339.50" y1="559.30" x2="339.50" y2="562.10" stroke="#111" stroke-width="0.8" />
<text x="339.50" y="569.40" font-size="4.6" text-anchor="middle" >15,000</text>
<line x1="361.40" y1="559.30" x2="361.40" y2="562.10" stroke="#111" stroke-width="0.8" />
<text x="361.40" y="569.40" font-size="4.6" text-anchor="middle" >20,000</text>
<text x="293.60" y="579.68" font-size="7.0" textLength="54.50" lengthAdjust="spacingAndGlyphs" >Rank in ordered dataset</text>
<line x1="288.00" y1="586.30" x2="292.00" y2="586.30" stroke="#5aaa3a" stroke-width="0.9" />
<text x="295.00" y="588.00" font-size="5.0" textLength="36.50" lengthAdjust="spacingAndGlyphs" >Enrichment profile</text>
<line x1="338.00" y1="586.30" x2="343.70" y2="586.30" stroke="#222" stroke-width="1.0" />
<text x="346.25" y="588.00" font-size="5.0" textLength="7.50" lengthAdjust="spacingAndGlyphs" >Hits</text>
<line x1="291.25" y1="592.30" x2="295.00" y2="592.30" stroke="#888" stroke-width="0.7" />
<line x1="298.75" y1="593.30" x2="303.00" y2="593.30" stroke="#888" stroke-width="0.7" />
<text x="306.25" y="594.50" font-size="5.0" textLength="43.25" lengthAdjust="spacingAndGlyphs" >Ranking metric scores</text>
<text transform="translate(247.00,492.00) rotate(-90)" x="0" y="0" font-size="6.5" text-anchor="middle" fill="#444" textLength="39.50" lengthAdjust="spacingAndGlyphs" >Enrichment score</text>
<text transform="translate(254.60,492.00) rotate(-90)" x="0" y="0" font-size="6.5" text-anchor="middle" fill="#444" textLength="9.80" lengthAdjust="spacingAndGlyphs" >(ES)</text>
<text transform="translate(254.20,543.50) rotate(-90)" x="0" y="0" font-size="6.5" text-anchor="middle" fill="#444" textLength="39.50" lengthAdjust="spacingAndGlyphs" >Ranked list metric</text>
<text transform="translate(261.60,544.10) rotate(-90)" x="0" y="0" font-size="6.5" text-anchor="middle" fill="#444" textLength="34.50" lengthAdjust="spacingAndGlyphs" >(signal2Noise)</text>
<line x1="434.85" y1="470.00" x2="434.85" y2="512.80" stroke="#eeeeee" stroke-width="0.5" />
<line x1="457.20" y1="470.00" x2="457.20" y2="512.80" stroke="#eeeeee" stroke-width="0.5" />
<line x1="479.55" y1="470.00" x2="479.55" y2="512.80" stroke="#eeeeee" stroke-width="0.5" />
<line x1="501.90" y1="470.00" x2="501.90" y2="512.80" stroke="#eeeeee" stroke-width="0.5" />
<line x1="412.70" y1="508.75" x2="506.90" y2="508.75" stroke="#c4c4c4" stroke-width="0.6" />
<path d="M412.80,507.50 L413.90,505.34 L415.00,503.75 L416.30,500.00 L417.50,496.25 L418.75,490.00 L420.00,483.75 L421.20,481.50 L422.50,480.00 L423.50,477.00 L424.50,475.00 L426.00,473.50 L427.50,472.50 L428.33,472.02 L429.17,471.32 L430.00,471.25 L430.83,471.15 L431.67,471.68 L432.50,471.80 L433.33,471.92 L434.17,472.19 L435.00,472.50 L435.83,472.89 L436.67,474.10 L437.50,474.50 L438.50,474.12 L439.50,473.50 L440.38,472.99 L441.25,472.50 L442.06,472.65 L442.88,472.53 L443.69,472.93 L444.50,473.00 L445.50,473.42 L446.50,473.28 L447.50,473.75 L448.33,473.85 L449.17,474.45 L450.00,474.80 L450.83,475.03 L451.67,475.70 L452.50,476.25 L453.33,476.96 L454.17,477.68 L455.00,478.76 L455.83,479.97 L456.67,480.66 L457.50,481.50 L458.33,482.30 L459.17,483.19 L460.00,484.22 L460.83,485.84 L461.67,486.68 L462.50,487.50 L463.33,488.52 L464.17,489.43 L465.00,490.60 L465.83,491.03 L466.67,492.45 L467.50,493.20 L468.33,494.36 L469.17,494.91 L470.00,496.14 L470.83,496.77 L471.67,497.94 L472.50,498.75 L473.50,498.99 L474.50,499.37 L475.50,500.00 L476.31,500.53 L477.12,500.17 L477.94,500.38 L478.75,500.75 L479.56,500.89 L480.38,501.38 L481.19,501.48 L482.00,502.00 L483.00,502.26 L484.00,503.06 L485.00,503.75 L485.80,504.13 L486.60,504.23 L487.40,505.32 L488.20,505.12 L489.00,505.80 L489.88,506.23 L490.75,506.98 L491.62,507.28 L492.50,507.50 L493.33,508.11 L494.17,508.48 L495.00,508.50 L495.83,508.96 L496.67,509.20 L497.50,509.50 L498.50,508.80 L499.50,508.00 L500.38,507.35 L501.25,507.00 L502.50,508.50 L503.60,509.00" fill="none" stroke="#5aaa3a" stroke-width="1.15" stroke-linejoin="round" />
<line x1="412.20" y1="512.80" x2="507.40" y2="512.80" stroke="#dddddd" stroke-width="0.5" />
<line x1="413.10" y1="513.10" x2="413.10" y2="526.90" stroke="#000" stroke-width="0.8" stroke-opacity="0.92"/>
<line x1="416.89" y1="513.10" x2="416.89" y2="526.90" stroke="#000" stroke-width="0.6" stroke-opacity="0.71"/>
<line x1="418.17" y1="513.10" x2="418.17" y2="526.90" stroke="#000" stroke-width="0.8" stroke-opacity="0.83"/>
<line x1="419.44" y1="513.10" x2="419.44" y2="526.90" stroke="#000" stroke-width="0.6" stroke-opacity="0.54"/>
<line x1="422.03" y1="513.10" x2="422.03" y2="526.90" stroke="#000" stroke-width="0.8" stroke-opacity="0.39"/>
<line x1="422.88" y1="513.10" x2="422.88" y2="526.90" stroke="#000" stroke-width="0.5" stroke-opacity="0.89"/>
<line x1="424.32" y1="513.10" x2="424.32" y2="526.90" stroke="#000" stroke-width="0.8" stroke-opacity="0.75"/>
<line x1="425.69" y1="513.10" x2="425.69" y2="526.90" stroke="#000" stroke-width="0.7" stroke-opacity="0.89"/>
<line x1="426.78" y1="513.10" x2="426.78" y2="526.90" stroke="#000" stroke-width="0.6" stroke-opacity="0.70"/>
<line x1="427.85" y1="513.10" x2="427.85" y2="526.90" stroke="#000" stroke-width="0.8" stroke-opacity="0.89"/>
<line x1="429.08" y1="513.10" x2="429.08" y2="526.90" stroke="#000" stroke-width="0.8" stroke-opacity="0.69"/>
<line x1="430.45" y1="513.10" x2="430.45" y2="526.90" stroke="#000" stroke-width="0.5" stroke-opacity="0.41"/>
<line x1="431.78" y1="513.10" x2="431.78" y2="526.90" stroke="#000" stroke-width="0.8" stroke-opacity="0.79"/>
<line x1="432.69" y1="513.10" x2="432.69" y2="526.90" stroke="#000" stroke-width="0.5" stroke-opacity="0.81"/>
<line x1="433.57" y1="513.10" x2="433.57" y2="526.90" stroke="#000" stroke-width="0.7" stroke-opacity="0.65"/>
<line x1="434.66" y1="513.10" x2="434.66" y2="526.90" stroke="#000" stroke-width="0.7" stroke-opacity="0.55"/>
<line x1="435.64" y1="513.10" x2="435.64" y2="526.90" stroke="#000" stroke-width="0.5" stroke-opacity="0.75"/>
<line x1="436.69" y1="513.10" x2="436.69" y2="526.90" stroke="#000" stroke-width="0.6" stroke-opacity="0.60"/>
<line x1="439.44" y1="513.10" x2="439.44" y2="526.90" stroke="#000" stroke-width="0.6" stroke-opacity="0.84"/>
<line x1="441.76" y1="513.10" x2="441.76" y2="526.90" stroke="#000" stroke-width="0.5" stroke-opacity="0.71"/>
<line x1="442.91" y1="513.10" x2="442.91" y2="526.90" stroke="#000" stroke-width="0.8" stroke-opacity="0.86"/>
<line x1="444.00" y1="513.10" x2="444.00" y2="526.90" stroke="#000" stroke-width="0.8" stroke-opacity="0.45"/>
<line x1="447.37" y1="513.10" x2="447.37" y2="526.90" stroke="#000" stroke-width="0.8" stroke-opacity="0.42"/>
<line x1="450.54" y1="513.10" x2="450.54" y2="526.90" stroke="#000" stroke-width="0.6" stroke-opacity="0.87"/>
<line x1="456.88" y1="513.10" x2="456.88" y2="526.90" stroke="#000" stroke-width="0.7" stroke-opacity="0.87"/>
<line x1="457.79" y1="513.10" x2="457.79" y2="526.90" stroke="#000" stroke-width="0.7" stroke-opacity="0.85"/>
<line x1="459.39" y1="513.10" x2="459.39" y2="526.90" stroke="#000" stroke-width="0.5" stroke-opacity="0.68"/>
<line x1="460.74" y1="513.10" x2="460.74" y2="526.90" stroke="#000" stroke-width="0.8" stroke-opacity="0.91"/>
<line x1="462.27" y1="513.10" x2="462.27" y2="526.90" stroke="#000" stroke-width="0.6" stroke-opacity="0.40"/>
<line x1="464.08" y1="513.10" x2="464.08" y2="526.90" stroke="#000" stroke-width="0.6" stroke-opacity="0.57"/>
<line x1="465.20" y1="513.10" x2="465.20" y2="526.90" stroke="#000" stroke-width="0.7" stroke-opacity="0.89"/>
<line x1="467.65" y1="513.10" x2="467.65" y2="526.90" stroke="#000" stroke-width="0.6" stroke-opacity="0.93"/>
<line x1="469.25" y1="513.10" x2="469.25" y2="526.90" stroke="#000" stroke-width="0.8" stroke-opacity="0.74"/>
<line x1="470.60" y1="513.10" x2="470.60" y2="526.90" stroke="#000" stroke-width="0.8" stroke-opacity="0.45"/>
<line x1="473.37" y1="513.10" x2="473.37" y2="526.90" stroke="#000" stroke-width="0.8" stroke-opacity="0.66"/>
<line x1="477.21" y1="513.10" x2="477.21" y2="526.90" stroke="#000" stroke-width="0.6" stroke-opacity="0.74"/>
<line x1="484.88" y1="513.10" x2="484.88" y2="526.90" stroke="#000" stroke-width="0.8" stroke-opacity="0.64"/>
<line x1="486.32" y1="513.10" x2="486.32" y2="526.90" stroke="#000" stroke-width="0.8" stroke-opacity="0.42"/>
<line x1="487.72" y1="513.10" x2="487.72" y2="526.90" stroke="#000" stroke-width="0.8" stroke-opacity="0.60"/>
<line x1="488.69" y1="513.10" x2="488.69" y2="526.90" stroke="#000" stroke-width="0.5" stroke-opacity="0.51"/>
<line x1="489.55" y1="513.10" x2="489.55" y2="526.90" stroke="#000" stroke-width="0.6" stroke-opacity="0.82"/>
<line x1="490.71" y1="513.10" x2="490.71" y2="526.90" stroke="#000" stroke-width="0.7" stroke-opacity="0.64"/>
<line x1="492.28" y1="513.10" x2="492.28" y2="526.90" stroke="#000" stroke-width="0.7" stroke-opacity="0.76"/>
<line x1="493.56" y1="513.10" x2="493.56" y2="526.90" stroke="#000" stroke-width="0.7" stroke-opacity="0.88"/>
<line x1="497.43" y1="513.10" x2="497.43" y2="526.90" stroke="#000" stroke-width="0.8" stroke-opacity="0.57"/>
<line x1="498.84" y1="513.10" x2="498.84" y2="526.90" stroke="#000" stroke-width="0.7" stroke-opacity="0.93"/>
<line x1="499.77" y1="513.10" x2="499.77" y2="526.90" stroke="#000" stroke-width="0.6" stroke-opacity="0.65"/>
<line x1="500.60" y1="513.10" x2="500.60" y2="526.90" stroke="#000" stroke-width="0.6" stroke-opacity="0.79"/>
<line x1="501.94" y1="513.10" x2="501.94" y2="526.90" stroke="#000" stroke-width="0.8" stroke-opacity="0.51"/>
<rect x="412.20" y="469.50" width="95.20" height="89.80" fill="none" stroke="#111" stroke-width="1.1"/>
<rect x="412.70" y="526.90" width="18.99" height="3.20" fill="#d03233" />
<rect x="431.64" y="526.90" width="19.89" height="3.20" fill="#da5658" />
<rect x="451.49" y="526.90" width="14.48" height="3.20" fill="#e4a9d5" />
<rect x="465.92" y="526.90" width="17.19" height="3.20" fill="#c0bbec" />
<rect x="483.06" y="526.90" width="9.97" height="3.20" fill="#7a6fc8" />
<rect x="492.98" y="526.90" width="9.97" height="3.20" fill="#3d2d9c" />
<path d="M412.80,530.40 L414.80,531.29 L420.80,533.83 L430.80,536.81 L444.80,542.02 L455.50,543.96 L467.50,545.00 L412.80,545.00 Z" fill="#c2c2c2"/>
<path d="M467.50,545.00 L479.50,546.79 L488.90,549.47 L497.90,552.15 L501.40,556.17 L502.90,557.80 L502.90,545.00 Z" fill="#c2c2c2"/>
<text x="413.80" y="535.53" font-size="4.5" fill="#d9443c" textLength="47.70" lengthAdjust="spacingAndGlyphs" >NSC12 [0μM] (positively</text>
<text x="439.80" y="540.53" font-size="4.5" fill="#d9443c" textLength="21.20" lengthAdjust="spacingAndGlyphs" >correlated)</text>
<text x="446.50" y="545.73" font-size="4.5" fill="#222" textLength="38.50" lengthAdjust="spacingAndGlyphs" >Zero cross at 12113</text>
<text x="459.00" y="551.53" font-size="4.5" fill="#5a52c4" textLength="27.00" lengthAdjust="spacingAndGlyphs" >NSC12 [6μM]</text>
<text x="459.00" y="556.73" font-size="4.5" fill="#5a52c4" textLength="44.80" lengthAdjust="spacingAndGlyphs" >(negatively correlated)</text>
<rect x="412.20" y="469.50" width="95.20" height="89.80" fill="none" stroke="#111" stroke-width="1.1"/>
<line x1="408.60" y1="470.50" x2="412.20" y2="470.50" stroke="#111" stroke-width="0.9" />
<text x="405.60" y="471.80" font-size="3.8" text-anchor="end" fill="#555" textLength="8.60" lengthAdjust="spacingAndGlyphs" >0.40</text>
<line x1="408.60" y1="475.28" x2="412.20" y2="475.28" stroke="#111" stroke-width="0.9" />
<text x="405.60" y="476.58" font-size="3.8" text-anchor="end" fill="#555" textLength="8.60" lengthAdjust="spacingAndGlyphs" >0.35</text>
<line x1="408.60" y1="480.06" x2="412.20" y2="480.06" stroke="#111" stroke-width="0.9" />
<text x="405.60" y="481.36" font-size="3.8" text-anchor="end" fill="#555" textLength="8.60" lengthAdjust="spacingAndGlyphs" >0.30</text>
<line x1="408.60" y1="484.84" x2="412.20" y2="484.84" stroke="#111" stroke-width="0.9" />
<text x="405.60" y="486.14" font-size="3.8" text-anchor="end" fill="#555" textLength="8.60" lengthAdjust="spacingAndGlyphs" >0.25</text>
<line x1="408.60" y1="489.62" x2="412.20" y2="489.62" stroke="#111" stroke-width="0.9" />
<text x="405.60" y="490.92" font-size="3.8" text-anchor="end" fill="#555" textLength="8.60" lengthAdjust="spacingAndGlyphs" >0.20</text>
<line x1="408.60" y1="494.40" x2="412.20" y2="494.40" stroke="#111" stroke-width="0.9" />
<text x="405.60" y="495.70" font-size="3.8" text-anchor="end" fill="#555" textLength="8.60" lengthAdjust="spacingAndGlyphs" >0.15</text>
<line x1="408.60" y1="499.18" x2="412.20" y2="499.18" stroke="#111" stroke-width="0.9" />
<text x="405.60" y="500.48" font-size="3.8" text-anchor="end" fill="#555" textLength="8.60" lengthAdjust="spacingAndGlyphs" >0.10</text>
<line x1="408.60" y1="503.96" x2="412.20" y2="503.96" stroke="#111" stroke-width="0.9" />
<text x="405.60" y="505.26" font-size="3.8" text-anchor="end" fill="#555" textLength="8.60" lengthAdjust="spacingAndGlyphs" >0.05</text>
<line x1="408.60" y1="508.74" x2="412.20" y2="508.74" stroke="#111" stroke-width="0.9" />
<text x="405.60" y="510.04" font-size="3.8" text-anchor="end" fill="#555" textLength="8.60" lengthAdjust="spacingAndGlyphs" >0.00</text>
<line x1="410.40" y1="533.00" x2="412.20" y2="533.00" stroke="#111" stroke-width="0.6" />
<text x="409.00" y="534.30" font-size="3.9" text-anchor="end" fill="#555" >4</text>
<line x1="410.40" y1="539.00" x2="412.20" y2="539.00" stroke="#111" stroke-width="0.6" />
<text x="409.00" y="540.30" font-size="3.9" text-anchor="end" fill="#555" >2</text>
<line x1="410.40" y1="545.00" x2="412.20" y2="545.00" stroke="#111" stroke-width="0.6" />
<text x="409.00" y="546.30" font-size="3.9" text-anchor="end" fill="#555" >0</text>
<line x1="410.40" y1="551.00" x2="412.20" y2="551.00" stroke="#111" stroke-width="0.6" />
<text x="409.00" y="552.30" font-size="3.9" text-anchor="end" fill="#555" >-2</text>
<line x1="410.40" y1="557.00" x2="412.20" y2="557.00" stroke="#111" stroke-width="0.6" />
<text x="409.00" y="558.30" font-size="3.9" text-anchor="end" fill="#555" >-4</text>
<text x="502.40" y="478.60" font-size="4.6" text-anchor="end" fill="#555" >FDR 0.10</text>
<text x="502.40" y="484.10" font-size="4.6" text-anchor="end" fill="#555" >P&lt;0.01</text>
<text x="435.20" y="457.00" font-size="6.4" fill="#222" textLength="49.00" lengthAdjust="spacingAndGlyphs" >Enrichment plot:</text>
<text x="406.95" y="465.00" font-size="6.4" fill="#222" textLength="105.50" lengthAdjust="spacingAndGlyphs" >REACTOME_SIGNALING_BY_FGFR</text>
<line x1="412.50" y1="559.30" x2="412.50" y2="562.10" stroke="#111" stroke-width="0.8" />
<text x="412.50" y="568.90" font-size="4.6" text-anchor="middle" >0</text>
<line x1="434.85" y1="559.30" x2="434.85" y2="562.10" stroke="#111" stroke-width="0.8" />
<text x="434.85" y="568.90" font-size="4.6" text-anchor="middle" >5,000</text>
<line x1="457.20" y1="559.30" x2="457.20" y2="562.10" stroke="#111" stroke-width="0.8" />
<text x="457.20" y="568.90" font-size="4.6" text-anchor="middle" >10,000</text>
<line x1="479.55" y1="559.30" x2="479.55" y2="562.10" stroke="#111" stroke-width="0.8" />
<text x="479.55" y="568.90" font-size="4.6" text-anchor="middle" >15,000</text>
<line x1="501.90" y1="559.30" x2="501.90" y2="562.10" stroke="#111" stroke-width="0.8" />
<text x="501.90" y="568.90" font-size="4.6" text-anchor="middle" >20,000</text>
<text x="432.30" y="579.18" font-size="7.0" textLength="54.50" lengthAdjust="spacingAndGlyphs" >Rank in ordered dataset</text>
<line x1="426.70" y1="586.30" x2="430.70" y2="586.30" stroke="#5aaa3a" stroke-width="0.9" />
<text x="433.70" y="588.00" font-size="5.0" textLength="36.50" lengthAdjust="spacingAndGlyphs" >Enrichment profile</text>
<line x1="476.70" y1="586.30" x2="482.40" y2="586.30" stroke="#222" stroke-width="1.0" />
<text x="484.95" y="588.00" font-size="5.0" textLength="7.50" lengthAdjust="spacingAndGlyphs" >Hits</text>
<line x1="429.95" y1="592.30" x2="433.70" y2="592.30" stroke="#888" stroke-width="0.7" />
<line x1="437.45" y1="593.30" x2="441.70" y2="593.30" stroke="#888" stroke-width="0.7" />
<text x="444.95" y="594.50" font-size="5.0" textLength="43.25" lengthAdjust="spacingAndGlyphs" >Ranking metric scores</text>
<text transform="translate(385.70,492.00) rotate(-90)" x="0" y="0" font-size="6.5" text-anchor="middle" fill="#444" textLength="39.50" lengthAdjust="spacingAndGlyphs" >Enrichment score</text>
<text transform="translate(393.30,492.00) rotate(-90)" x="0" y="0" font-size="6.5" text-anchor="middle" fill="#444" textLength="9.80" lengthAdjust="spacingAndGlyphs" >(ES)</text>
<text transform="translate(392.90,543.50) rotate(-90)" x="0" y="0" font-size="6.5" text-anchor="middle" fill="#444" textLength="39.50" lengthAdjust="spacingAndGlyphs" >Ranked list metric</text>
<text transform="translate(400.30,544.10) rotate(-90)" x="0" y="0" font-size="6.5" text-anchor="middle" fill="#444" textLength="34.50" lengthAdjust="spacingAndGlyphs" >(signal2Noise)</text>
<text x="83.00" y="416.75" font-size="7.2" textLength="25.75" lengthAdjust="spacingAndGlyphs" >BCWM.1</text>
<text x="65.40" y="426.25" font-size="6.6" text-anchor="middle" >0</text>
<text x="83.75" y="426.25" font-size="6.6" text-anchor="middle" >1</text>
<text x="100.50" y="426.25" font-size="6.6" text-anchor="middle" >3</text>
<text x="120.50" y="426.25" font-size="6.6" text-anchor="middle" >6</text>
<line x1="61.50" y1="431.20" x2="130.50" y2="431.20" stroke="#222" stroke-width="1.2" />
<text x="162.00" y="416.75" font-size="7.2" textLength="25.50" lengthAdjust="spacingAndGlyphs" >MWCL.1</text>
<text x="148.75" y="426.65" font-size="6.6" text-anchor="middle" >0</text>
<text x="167.00" y="426.65" font-size="6.6" text-anchor="middle" >1</text>
<text x="183.75" y="426.65" font-size="6.6" text-anchor="middle" >3</text>
<text x="203.75" y="426.65" font-size="6.6" text-anchor="middle" >6</text>
<line x1="140.40" y1="431.20" x2="209.30" y2="431.20" stroke="#222" stroke-width="1.2" />
<text x="55.80" y="426.50" font-size="7.2" text-anchor="end" fill="#2a2a2a" textLength="35.40" lengthAdjust="spacingAndGlyphs" >NSC12 [μM]</text>
<text x="55.80" y="445.40" font-size="7.2" text-anchor="end" fill="#2a2a2a" textLength="26.30" lengthAdjust="spacingAndGlyphs" >p-FGFR3</text>
<text x="55.80" y="464.90" font-size="7.2" text-anchor="end" fill="#2a2a2a" textLength="21.00" lengthAdjust="spacingAndGlyphs" >p-FSR2</text>
<text x="55.80" y="482.00" font-size="7.2" text-anchor="end" fill="#2a2a2a" textLength="22.80" lengthAdjust="spacingAndGlyphs" >GAPDH</text>
<rect x="61.20" y="433.80" width="69.50" height="18.50" fill="#ebebeb" stroke="#b5b5b5" stroke-width="0.6"/>
<svg x="61.20" y="433.80" width="69.50" height="18.50" viewBox="61.20 433.80 69.50 18.50" overflow="hidden">
<rect x="61.20" y="433.50" width="14.40" height="19.00" rx="1.50" ry="2.00" fill="#0a0a0a" filter="url(#b05)"/>
<rect x="79.50" y="437.00" width="13.50" height="13.00" rx="2.00" ry="3.00" fill="#bdbdbd" filter="url(#b2)"/>
<rect x="80.40" y="442.45" width="11.50" height="3.50" rx="2.88" ry="1.75" fill="#333" filter="url(#b1)"/>
<rect x="97.30" y="442.55" width="11.50" height="3.90" rx="2.88" ry="1.95" fill="#d2d2d2" filter="url(#b1)"/>
<rect x="114.20" y="442.55" width="11.60" height="3.90" rx="2.90" ry="1.95" fill="#dadada" filter="url(#b1)"/>
</svg>
<rect x="60.40" y="456.90" width="71.50" height="11.30" fill="#e4e4e4" stroke="#b5b5b5" stroke-width="0.6"/>
<svg x="60.40" y="456.90" width="71.50" height="11.30" viewBox="60.40 456.90 71.50 11.30" overflow="hidden">
<rect x="62.00" y="461.40" width="13.80" height="2.40" rx="3.00" ry="1.20" fill="#222" filter="url(#b05)"/>
<rect x="78.80" y="461.30" width="13.90" height="2.60" rx="3.00" ry="1.30" fill="#111" filter="url(#b05)"/>
<rect x="96.50" y="460.85" width="14.70" height="3.50" rx="3.00" ry="1.75" fill="#000" filter="url(#b05)"/>
<rect x="107.00" y="460.35" width="5.00" height="4.50" rx="1.25" ry="2.25" fill="#000" filter="url(#b05)"/>
<rect x="114.20" y="461.40" width="13.10" height="2.40" rx="3.00" ry="1.20" fill="#333" filter="url(#b05)"/>
</svg>
<rect x="60.40" y="473.80" width="71.50" height="13.90" fill="#8a8a8a" stroke="#777" stroke-width="0.6"/>
<svg x="60.40" y="473.80" width="71.50" height="13.90" viewBox="60.40 473.80 71.50 13.90" overflow="hidden">
<rect x="61.50" y="477.35" width="17.50" height="7.90" rx="3.00" ry="3.95" fill="#000" filter="url(#b1)"/>
<rect x="79.00" y="477.35" width="17.00" height="7.90" rx="3.00" ry="3.95" fill="#000" filter="url(#b1)"/>
<rect x="95.50" y="477.75" width="17.50" height="7.50" rx="3.00" ry="3.75" fill="#000" filter="url(#b1)"/>
<rect x="112.00" y="477.35" width="18.50" height="7.30" rx="3.00" ry="3.65" fill="#000" filter="url(#b1)"/>
</svg>
<defs><linearGradient id="g1191" x1="0" y1="0" x2="1" y2="0"><stop offset="0" stop-color="#cfcfcf"/><stop offset="1" stop-color="#ececec"/></linearGradient></defs>
<rect x="141.60" y="434.30" width="71.60" height="19.50" fill="url(#g1191)" stroke="#b5b5b5" stroke-width="0.6"/>
<svg x="141.60" y="434.30" width="71.60" height="19.50" viewBox="141.60 434.30 71.60 19.50" overflow="hidden">
<rect x="142.50" y="436.50" width="34.50" height="9.00" rx="2.00" ry="2.00" fill="#b0b0b0" filter="url(#b2)"/>
<rect x="143.50" y="437.85" width="16.30" height="15.50" rx="3.00" ry="4.50" fill="#000" filter="url(#b05)"/>
<rect x="162.00" y="440.85" width="14.50" height="7.90" rx="2.00" ry="2.50" fill="#0a0a0a" filter="url(#b1)"/>
<rect x="180.00" y="441.75" width="12.40" height="3.50" rx="3.00" ry="1.75" fill="#b8b8b8" filter="url(#b1)"/>
<rect x="196.00" y="441.85" width="13.00" height="3.30" rx="3.00" ry="1.65" fill="#d8d8d8" filter="url(#b1)"/>
</svg>
<defs><linearGradient id="g1200" x1="0" y1="0" x2="1" y2="0"><stop offset="0" stop-color="#c4c4c4"/><stop offset="1" stop-color="#ebebeb"/></linearGradient></defs>
<rect x="142.40" y="456.50" width="72.30" height="12.00" fill="url(#g1200)" stroke="#b5b5b5" stroke-width="0.6"/>
<svg x="142.40" y="456.50" width="72.30" height="12.00" viewBox="142.40 456.50 72.30 12.00" overflow="hidden">
<rect x="143.00" y="460.95" width="15.00" height="3.70" rx="3.00" ry="1.85" fill="#111" filter="url(#b1)"/>
<rect x="162.00" y="460.95" width="14.00" height="3.70" rx="3.00" ry="1.85" fill="#111" filter="url(#b1)"/>
<rect x="178.00" y="460.65" width="5.50" height="3.90" rx="1.38" ry="1.95" fill="#000" filter="url(#b1)"/>
<rect x="183.00" y="461.25" width="9.00" height="3.10" rx="2.25" ry="1.55" fill="#777" filter="url(#b1)"/>
<rect x="196.00" y="461.35" width="12.00" height="2.90" rx="3.00" ry="1.45" fill="#c0c0c0" filter="url(#b1)"/>
</svg>
<rect x="142.40" y="474.60" width="70.80" height="14.60" fill="#8c8c8c" stroke="#666" stroke-width="0.6"/>
<svg x="142.40" y="474.60" width="70.80" height="14.60" viewBox="142.40 474.60 70.80 14.60" overflow="hidden">
<rect x="142.50" y="477.00" width="19.00" height="10.00" rx="4.00" ry="5.00" fill="#000" filter="url(#b1)"/>
<rect x="160.50" y="477.25" width="18.50" height="9.50" rx="4.00" ry="4.75" fill="#000" filter="url(#b1)"/>
<rect x="178.00" y="477.50" width="18.00" height="9.00" rx="4.00" ry="4.50" fill="#000" filter="url(#b1)"/>
<rect x="195.00" y="477.50" width="17.50" height="9.00" rx="4.00" ry="4.50" fill="#000" filter="url(#b1)"/>
</svg>
<text x="80.00" y="516.95" font-size="7.2" textLength="26.25" lengthAdjust="spacingAndGlyphs" >BCWM.1</text>
<text x="62.00" y="526.95" font-size="6.6" text-anchor="middle" >0</text>
<text x="80.50" y="526.95" font-size="6.6" text-anchor="middle" >1</text>
<text x="97.50" y="526.95" font-size="6.6" text-anchor="middle" >3</text>
<text x="117.50" y="526.95" font-size="6.6" text-anchor="middle" >6</text>
<line x1="58.50" y1="531.00" x2="127.40" y2="531.00" stroke="#222" stroke-width="1.2" />
<text x="160.75" y="516.95" font-size="7.2" textLength="25.50" lengthAdjust="spacingAndGlyphs" >MWCL.1</text>
<text x="142.50" y="526.95" font-size="6.6" text-anchor="middle" >0</text>
<text x="161.25" y="526.95" font-size="6.6" text-anchor="middle" >1</text>
<text x="178.25" y="526.95" font-size="6.6" text-anchor="middle" >3</text>
<text x="198.00" y="526.95" font-size="6.6" text-anchor="middle" >6</text>
<line x1="139.00" y1="530.60" x2="208.00" y2="530.60" stroke="#222" stroke-width="1.2" />
<text x="51.90" y="527.20" font-size="7.2" text-anchor="end" fill="#2a2a2a" textLength="35.10" lengthAdjust="spacingAndGlyphs" >NSC12 [μM]</text>
<text x="52.20" y="543.40" font-size="7.2" text-anchor="end" fill="#2a2a2a" textLength="18.50" lengthAdjust="spacingAndGlyphs" >p-AKT</text>
<text x="52.20" y="557.00" font-size="7.2" text-anchor="end" fill="#2a2a2a" textLength="12.40" lengthAdjust="spacingAndGlyphs" >AKT</text>
<text x="52.20" y="575.50" font-size="7.2" text-anchor="end" fill="#2a2a2a" textLength="26.30" lengthAdjust="spacingAndGlyphs" >p-GSK3β</text>
<text x="52.20" y="592.90" font-size="7.2" text-anchor="end" fill="#2a2a2a" textLength="17.60" lengthAdjust="spacingAndGlyphs" >p-S6R</text>
<text x="52.20" y="610.80" font-size="7.2" text-anchor="end" fill="#2a2a2a" textLength="18.60" lengthAdjust="spacingAndGlyphs" >p-ERK</text>
<text x="52.20" y="629.40" font-size="7.2" text-anchor="end" fill="#2a2a2a" textLength="22.20" lengthAdjust="spacingAndGlyphs" >p-JAK2</text>
<text x="52.20" y="648.50" font-size="7.2" text-anchor="end" fill="#2a2a2a" textLength="24.30" lengthAdjust="spacingAndGlyphs" >p-STAT3</text>
<text x="52.20" y="668.10" font-size="7.2" text-anchor="end" fill="#2a2a2a" textLength="23.60" lengthAdjust="spacingAndGlyphs" >GAPDH</text>
<rect x="57.40" y="534.90" width="69.50" height="13.60" fill="#e2e2e2" stroke="#b5b5b5" stroke-width="0.6"/>
<svg x="57.40" y="534.90" width="69.50" height="13.60" viewBox="57.40 534.90 69.50 13.60" overflow="hidden">
<rect x="59.70" y="539.75" width="16.10" height="5.10" rx="3.00" ry="2.55" fill="#000" filter="url(#b1)"/>
<rect x="77.40" y="540.05" width="14.30" height="4.50" rx="3.00" ry="2.25" fill="#050505" filter="url(#b1)"/>
<rect x="94.30" y="540.75" width="12.70" height="3.50" rx="3.00" ry="1.75" fill="#555" filter="url(#b1)"/>
<rect x="110.50" y="540.95" width="12.30" height="3.10" rx="3.00" ry="1.55" fill="#c4c4c4" filter="url(#b1)"/>
</svg>
<rect x="56.90" y="550.80" width="68.60" height="12.00" fill="#9a9a9a" stroke="#888" stroke-width="0.6"/>
<svg x="56.90" y="550.80" width="68.60" height="12.00" viewBox="56.90 550.80 68.60 12.00" overflow="hidden">
<rect x="58.50" y="553.95" width="17.50" height="6.90" rx="3.00" ry="3.45" fill="#000" filter="url(#b1)"/>
<rect x="76.50" y="553.95" width="16.00" height="6.90" rx="3.00" ry="3.45" fill="#000" filter="url(#b1)"/>
<rect x="93.00" y="553.95" width="15.50" height="6.90" rx="3.00" ry="3.45" fill="#000" filter="url(#b1)"/>
<rect x="109.00" y="554.15" width="15.50" height="6.50" rx="3.00" ry="3.25" fill="#000" filter="url(#b1)"/>
</svg>
<rect x="56.30" y="566.90" width="70.30" height="12.00" fill="#d4d4d4" stroke="#b5b5b5" stroke-width="0.6"/>
<svg x="56.30" y="566.90" width="70.30" height="12.00" viewBox="56.30 566.90 70.30 12.00" overflow="hidden">
<rect x="58.90" y="570.05" width="15.90" height="4.70" rx="3.00" ry="2.35" fill="#000" filter="url(#b1)"/>
<rect x="76.60" y="570.35" width="14.20" height="4.10" rx="3.00" ry="2.05" fill="#111" filter="url(#b1)"/>
<rect x="94.00" y="570.75" width="12.60" height="3.50" rx="3.00" ry="1.75" fill="#555" filter="url(#b1)"/>
<rect x="110.00" y="570.75" width="13.00" height="3.50" rx="3.00" ry="1.75" fill="#b5b5b5" filter="url(#b1)"/>
</svg>
<defs><linearGradient id="g1258" x1="0" y1="0" x2="1" y2="0"><stop offset="0" stop-color="#c6c6c6"/><stop offset="1" stop-color="#dedede"/></linearGradient></defs>
<rect x="56.30" y="583.00" width="69.20" height="11.60" fill="url(#g1258)" stroke="#b5b5b5" stroke-width="0.6"/>
<svg x="56.30" y="583.00" width="69.20" height="11.60" viewBox="56.30 583.00 69.20 11.60" overflow="hidden">
<rect x="58.50" y="584.85" width="16.00" height="6.10" rx="3.00" ry="3.05" fill="#000" filter="url(#b1)"/>
<rect x="76.60" y="584.85" width="14.80" height="6.10" rx="3.00" ry="3.05" fill="#000" filter="url(#b1)"/>
<rect x="94.00" y="586.25" width="12.00" height="3.90" rx="3.00" ry="1.95" fill="#888" filter="url(#b1)"/>
<rect x="110.00" y="586.25" width="13.00" height="3.90" rx="3.00" ry="1.95" fill="#d0d0d0" filter="url(#b1)"/>
</svg>
<rect x="56.30" y="598.80" width="68.30" height="13.40" fill="#d8d8d8" stroke="#b5b5b5" stroke-width="0.6"/>
<svg x="56.30" y="598.80" width="68.30" height="13.40" viewBox="56.30 598.80 68.30 13.40" overflow="hidden">
<rect x="58.50" y="603.05" width="15.00" height="2.50" rx="3.00" ry="1.25" fill="#111" filter="url(#b05)"/>
<rect x="58.50" y="605.85" width="15.00" height="2.90" rx="3.00" ry="1.45" fill="#000" filter="url(#b05)"/>
<rect x="77.00" y="603.85" width="12.50" height="1.90" rx="3.00" ry="0.95" fill="#555" filter="url(#b05)"/>
<rect x="77.00" y="605.95" width="12.50" height="2.90" rx="3.00" ry="1.45" fill="#000" filter="url(#b05)"/>
<rect x="92.50" y="603.85" width="13.50" height="1.90" rx="3.00" ry="0.95" fill="#555" filter="url(#b05)"/>
<rect x="92.50" y="605.95" width="13.50" height="2.90" rx="3.00" ry="1.45" fill="#000" filter="url(#b05)"/>
<rect x="110.00" y="603.95" width="13.00" height="2.10" rx="3.00" ry="1.05" fill="#444" filter="url(#b05)"/>
<rect x="110.00" y="606.15" width="13.00" height="2.70" rx="3.00" ry="1.35" fill="#111" filter="url(#b05)"/>
</svg>
<defs><linearGradient id="g1277" x1="0" y1="0" x2="1" y2="0"><stop offset="0" stop-color="#cfcfcf"/><stop offset="1" stop-color="#e0e0e0"/></linearGradient></defs>
<rect x="56.30" y="617.30" width="68.30" height="14.30" fill="url(#g1277)" stroke="#b5b5b5" stroke-width="0.6"/>
<svg x="56.30" y="617.30" width="68.30" height="14.30" viewBox="56.30 617.30 68.30 14.30" overflow="hidden">
<rect x="57.00" y="624.65" width="16.00" height="3.30" rx="3.00" ry="1.65" fill="#8a8a8a" filter="url(#b1)"/>
<rect x="57.00" y="629.45" width="16.00" height="1.90" rx="3.00" ry="0.95" fill="#222" filter="url(#b1)"/>
<rect x="75.50" y="622.05" width="15.00" height="5.90" rx="1.00" ry="1.50" fill="#444" filter="url(#b1)"/>
<rect x="75.50" y="625.15" width="15.00" height="6.10" rx="1.00" ry="1.50" fill="#0a0a0a" filter="url(#b1)"/>
<rect x="92.00" y="622.80" width="14.00" height="7.40" rx="1.50" ry="2.00" fill="#959595" filter="url(#b1)"/>
<rect x="92.00" y="628.95" width="14.00" height="2.10" rx="3.00" ry="1.05" fill="#555" filter="url(#b1)"/>
<rect x="108.30" y="629.45" width="1.70" height="2.30" rx="0.43" ry="1.15" fill="#000" filter="url(#b1)"/>
</svg>
<rect x="55.80" y="636.80" width="69.70" height="13.60" fill="#e8e8e8" stroke="#b5b5b5" stroke-width="0.6"/>
<svg x="55.80" y="636.80" width="69.70" height="13.60" viewBox="55.80 636.80 69.70 13.60" overflow="hidden">
<rect x="57.00" y="639.95" width="14.50" height="7.90" rx="3.00" ry="3.95" fill="#000" filter="url(#b1)"/>
<rect x="75.00" y="641.15" width="13.00" height="5.50" rx="3.00" ry="2.75" fill="#000" filter="url(#b1)"/>
<rect x="92.00" y="642.25" width="12.00" height="3.50" rx="3.00" ry="1.75" fill="#b8b8b8" filter="url(#b1)"/>
<rect x="109.00" y="642.25" width="10.00" height="3.50" rx="2.50" ry="1.75" fill="#c4c4c4" filter="url(#b1)"/>
</svg>
<rect x="55.40" y="656.20" width="70.80" height="12.60" fill="#8a8a8a" stroke="#777" stroke-width="0.6"/>
<svg x="55.40" y="656.20" width="70.80" height="12.60" viewBox="55.40 656.20 70.80 12.60" overflow="hidden">
<rect x="56.50" y="659.15" width="16.50" height="7.10" rx="3.00" ry="3.55" fill="#000" filter="url(#b1)"/>
<rect x="72.50" y="659.15" width="16.50" height="7.10" rx="3.00" ry="3.55" fill="#000" filter="url(#b1)"/>
<rect x="88.50" y="659.15" width="16.50" height="7.10" rx="3.00" ry="3.55" fill="#000" filter="url(#b1)"/>
<rect x="104.50" y="659.05" width="21.00" height="6.90" rx="3.00" ry="3.45" fill="#000" filter="url(#b1)"/>
</svg>
<rect x="138.60" y="535.40" width="66.90" height="13.40" fill="#e8e8e8" stroke="#b5b5b5" stroke-width="0.6"/>
<svg x="138.60" y="535.40" width="66.90" height="13.40" viewBox="138.60 535.40 66.90 13.40" overflow="hidden">
<rect x="141.50" y="540.55" width="14.50" height="2.90" rx="3.00" ry="1.45" fill="#000" filter="url(#b05)"/>
<rect x="158.00" y="540.55" width="13.50" height="2.90" rx="3.00" ry="1.45" fill="#000" filter="url(#b05)"/>
<rect x="174.00" y="540.45" width="13.00" height="2.70" rx="3.00" ry="1.35" fill="#000" filter="url(#b05)"/>
<rect x="190.00" y="540.65" width="13.00" height="2.30" rx="3.00" ry="1.15" fill="#999" filter="url(#b05)"/>
</svg>
<rect x="138.30" y="552.00" width="66.70" height="11.50" fill="#6a6a6a" stroke="#666" stroke-width="0.6"/>
<svg x="138.30" y="552.00" width="66.70" height="11.50" viewBox="138.30 552.00 66.70 11.50" overflow="hidden">
<rect x="138.80" y="553.50" width="17.70" height="8.60" rx="3.00" ry="4.00" fill="#000" filter="url(#b05)"/>
<rect x="155.50" y="553.50" width="17.50" height="8.60" rx="3.00" ry="4.00" fill="#000" filter="url(#b05)"/>
<rect x="172.00" y="553.50" width="17.50" height="8.60" rx="3.00" ry="4.00" fill="#000" filter="url(#b05)"/>
<rect x="188.50" y="553.50" width="16.00" height="8.60" rx="3.00" ry="4.00" fill="#000" filter="url(#b05)"/>
</svg>
<rect x="138.30" y="567.70" width="67.20" height="12.30" fill="#dcdcdc" stroke="#b5b5b5" stroke-width="0.6"/>
<svg x="138.30" y="567.70" width="67.20" height="12.30" viewBox="138.30 567.70 67.20 12.30" overflow="hidden">
<rect x="139.00" y="572.85" width="16.00" height="5.10" rx="3.00" ry="2.55" fill="#000" filter="url(#b1)"/>
<rect x="158.00" y="573.55" width="13.50" height="3.70" rx="3.00" ry="1.85" fill="#4a4a4a" filter="url(#b1)"/>
<rect x="174.00" y="573.55" width="10.50" height="3.70" rx="2.62" ry="1.85" fill="#555" filter="url(#b1)"/>
<rect x="190.00" y="573.75" width="13.00" height="3.30" rx="3.00" ry="1.65" fill="#d0d0d0" filter="url(#b1)"/>
</svg>
<defs><linearGradient id="g1323" x1="0" y1="0" x2="1" y2="0"><stop offset="0" stop-color="#c8c8c8"/><stop offset="1" stop-color="#dddddd"/></linearGradient></defs>
<rect x="137.80" y="583.80" width="67.20" height="11.60" fill="url(#g1323)" stroke="#b5b5b5" stroke-width="0.6"/>
<svg x="137.80" y="583.80" width="67.20" height="11.60" viewBox="137.80 583.80 67.20 11.60" overflow="hidden">
<rect x="139.00" y="586.05" width="16.00" height="7.30" rx="3.00" ry="3.65" fill="#000" filter="url(#b1)"/>
<rect x="158.00" y="586.55" width="14.50" height="6.30" rx="3.00" ry="3.15" fill="#000" filter="url(#b1)"/>
<rect x="176.00" y="588.45" width="12.00" height="4.10" rx="3.00" ry="2.05" fill="#888" filter="url(#b1)"/>
<rect x="191.00" y="588.55" width="12.00" height="3.90" rx="3.00" ry="1.95" fill="#d0d0d0" filter="url(#b1)"/>
</svg>
<rect x="137.40" y="599.30" width="68.60" height="14.50" fill="#d4d4d4" stroke="#b5b5b5" stroke-width="0.6"/>
<svg x="137.40" y="599.30" width="68.60" height="14.50" viewBox="137.40 599.30 68.60 14.50" overflow="hidden">
<rect x="139.50" y="604.85" width="16.00" height="6.30" rx="3.00" ry="3.15" fill="#000" filter="url(#b1)"/>
<rect x="157.00" y="605.35" width="13.50" height="5.30" rx="3.00" ry="2.65" fill="#000" filter="url(#b1)"/>
<rect x="174.00" y="605.65" width="13.00" height="4.70" rx="3.00" ry="2.35" fill="#000" filter="url(#b1)"/>
<rect x="191.00" y="606.25" width="12.00" height="3.50" rx="3.00" ry="1.75" fill="#111" filter="url(#b1)"/>
</svg>
<rect x="137.80" y="617.30" width="68.20" height="13.90" fill="#e6e6e6" stroke="#c0c0c0" stroke-width="0.6"/>
<svg x="137.80" y="617.30" width="68.20" height="13.90" viewBox="137.80 617.30 68.20 13.90" overflow="hidden">
<rect x="137.00" y="618.05" width="15.00" height="7.90" rx="1.00" ry="2.00" fill="#000" filter="url(#b1)"/>
<rect x="137.00" y="624.05" width="13.00" height="6.90" rx="1.00" ry="2.00" fill="#444" filter="url(#b1)"/>
<rect x="157.00" y="621.00" width="13.00" height="8.00" rx="3.00" ry="4.00" fill="#a8a8a8" filter="url(#b2)"/>
<rect x="173.00" y="621.05" width="13.00" height="6.90" rx="3.00" ry="3.45" fill="#d4d4d4" filter="url(#b2)"/>
</svg>
<rect x="137.80" y="636.80" width="67.70" height="14.40" fill="#efefef" stroke="#b5b5b5" stroke-width="0.6"/>
<svg x="137.80" y="636.80" width="67.70" height="14.40" viewBox="137.80 636.80 67.70 14.40" overflow="hidden">
<rect x="141.00" y="642.55" width="13.00" height="4.10" rx="3.00" ry="2.05" fill="#000" filter="url(#b1)"/>
<rect x="147.00" y="643.85" width="5.50" height="3.50" rx="1.38" ry="1.75" fill="#000" filter="url(#b1)"/>
<rect x="158.00" y="643.25" width="12.00" height="3.50" rx="3.00" ry="1.75" fill="#111" filter="url(#b1)"/>
<rect x="165.50" y="643.85" width="4.50" height="3.90" rx="1.12" ry="1.95" fill="#000" filter="url(#b1)"/>
<rect x="175.00" y="643.35" width="10.00" height="3.30" rx="2.50" ry="1.65" fill="#222" filter="url(#b1)"/>
<rect x="191.00" y="643.35" width="10.00" height="3.30" rx="2.50" ry="1.65" fill="#222" filter="url(#b1)"/>
</svg>
<rect x="138.30" y="656.00" width="66.50" height="11.60" fill="#888" stroke="#777" stroke-width="0.6"/>
<svg x="138.30" y="656.00" width="66.50" height="11.60" viewBox="138.30 656.00 66.50 11.60" overflow="hidden">
<rect x="139.00" y="658.25" width="16.50" height="6.70" rx="3.00" ry="3.35" fill="#000" filter="url(#b1)"/>
<rect x="155.50" y="658.25" width="16.00" height="6.70" rx="3.00" ry="3.35" fill="#000" filter="url(#b1)"/>
<rect x="172.00" y="658.25" width="16.00" height="6.70" rx="3.00" ry="3.35" fill="#000" filter="url(#b1)"/>
<rect x="188.50" y="658.25" width="15.50" height="6.70" rx="3.00" ry="3.35" fill="#000" filter="url(#b1)"/>
</svg>
</svg>
</body></html>
